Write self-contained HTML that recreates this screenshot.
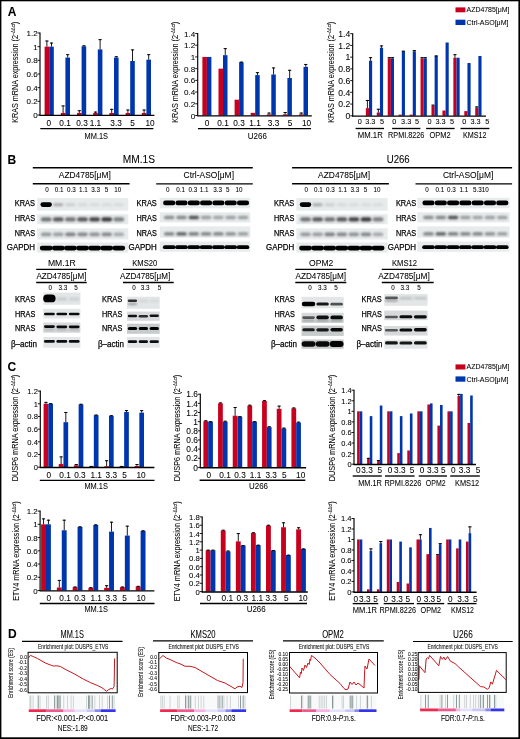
<!DOCTYPE html>
<html><head><meta charset="utf-8"><style>
html,body{margin:0;padding:0;background:#fff;}
body{width:520px;height:739px;overflow:hidden;}
svg{display:block;filter:blur(0.25px);font-family:"Liberation Sans", sans-serif;}
text{stroke:#000;stroke-width:0.06px;}
.bl{stroke-width:0.25px;}
</style></head><body>
<svg width="520" height="739" viewBox="0 0 520 739">
<defs><filter id="b1" x="-50%" y="-50%" width="200%" height="200%"><feGaussianBlur stdDeviation="0.55"/></filter><filter id="b2" x="-50%" y="-50%" width="200%" height="200%"><feGaussianBlur stdDeviation="0.9"/></filter></defs>
<rect x="0" y="0" width="520" height="739" fill="#fff"/>
<text x="12" y="16.43" font-size="12" text-anchor="middle" font-weight="bold">A</text>
<rect x="44.6" y="46.67" width="4.6" height="68.33" fill="#c8001e"/>
<line x1="46.9" y1="40.52" x2="46.9" y2="46.67" stroke="#000" stroke-width="0.9"/>
<line x1="45.3" y1="41.02" x2="48.5" y2="41.02" stroke="#000" stroke-width="1"/>
<rect x="49.2" y="46.67" width="4.6" height="68.33" fill="#0036ad"/>
<line x1="51.5" y1="42.57" x2="51.5" y2="46.67" stroke="#000" stroke-width="0.9"/>
<line x1="49.9" y1="43.07" x2="53.1" y2="43.07" stroke="#000" stroke-width="1"/>
<rect x="60.8" y="112.95" width="4.6" height="2.05" fill="#c8001e"/>
<line x1="63.1" y1="105.43" x2="63.1" y2="112.95" stroke="#000" stroke-width="0.9"/>
<line x1="61.5" y1="105.93" x2="64.7" y2="105.93" stroke="#000" stroke-width="1"/>
<rect x="65.4" y="57.6" width="4.6" height="57.4" fill="#0036ad"/>
<line x1="67.7" y1="54.18" x2="67.7" y2="57.6" stroke="#000" stroke-width="0.9"/>
<line x1="66.1" y1="54.68" x2="69.3" y2="54.68" stroke="#000" stroke-width="1"/>
<rect x="77" y="112.95" width="4.6" height="2.05" fill="#c8001e"/>
<line x1="79.3" y1="110.22" x2="79.3" y2="112.95" stroke="#000" stroke-width="0.9"/>
<line x1="77.7" y1="110.72" x2="80.9" y2="110.72" stroke="#000" stroke-width="1"/>
<rect x="81.6" y="46.33" width="4.6" height="68.67" fill="#0036ad"/>
<line x1="83.9" y1="45.3" x2="83.9" y2="46.33" stroke="#000" stroke-width="0.9"/>
<line x1="82.3" y1="45.8" x2="85.5" y2="45.8" stroke="#000" stroke-width="1"/>
<rect x="93.2" y="112.95" width="4.6" height="2.05" fill="#c8001e"/>
<line x1="95.5" y1="111.58" x2="95.5" y2="112.95" stroke="#000" stroke-width="0.9"/>
<line x1="93.9" y1="112.08" x2="97.1" y2="112.08" stroke="#000" stroke-width="1"/>
<rect x="97.8" y="49.4" width="4.6" height="65.6" fill="#0036ad"/>
<line x1="100.1" y1="39.15" x2="100.1" y2="49.4" stroke="#000" stroke-width="0.9"/>
<line x1="98.5" y1="39.65" x2="101.7" y2="39.65" stroke="#000" stroke-width="1"/>
<rect x="109.4" y="112.95" width="4.6" height="2.05" fill="#c8001e"/>
<line x1="111.7" y1="108.85" x2="111.7" y2="112.95" stroke="#000" stroke-width="0.9"/>
<line x1="110.1" y1="109.35" x2="113.3" y2="109.35" stroke="#000" stroke-width="1"/>
<rect x="114" y="57.6" width="4.6" height="57.4" fill="#0036ad"/>
<line x1="116.3" y1="56.23" x2="116.3" y2="57.6" stroke="#000" stroke-width="0.9"/>
<line x1="114.7" y1="56.73" x2="117.9" y2="56.73" stroke="#000" stroke-width="1"/>
<rect x="125.6" y="112.95" width="4.6" height="2.05" fill="#c8001e"/>
<line x1="127.9" y1="109.53" x2="127.9" y2="112.95" stroke="#000" stroke-width="0.9"/>
<line x1="126.3" y1="110.03" x2="129.5" y2="110.03" stroke="#000" stroke-width="1"/>
<rect x="130.2" y="61.02" width="4.6" height="53.98" fill="#0036ad"/>
<line x1="132.5" y1="49.4" x2="132.5" y2="61.02" stroke="#000" stroke-width="0.9"/>
<line x1="130.9" y1="49.9" x2="134.1" y2="49.9" stroke="#000" stroke-width="1"/>
<rect x="141.8" y="112.95" width="4.6" height="2.05" fill="#c8001e"/>
<line x1="144.1" y1="109.53" x2="144.1" y2="112.95" stroke="#000" stroke-width="0.9"/>
<line x1="142.5" y1="110.03" x2="145.7" y2="110.03" stroke="#000" stroke-width="1"/>
<rect x="146.4" y="59.65" width="4.6" height="55.35" fill="#0036ad"/>
<line x1="148.7" y1="54.18" x2="148.7" y2="59.65" stroke="#000" stroke-width="0.9"/>
<line x1="147.1" y1="54.68" x2="150.3" y2="54.68" stroke="#000" stroke-width="1"/>
<line x1="40" y1="32.5" x2="40" y2="115.6" stroke="#000" stroke-width="1.15"/>
<line x1="39.5" y1="115.35" x2="154.4" y2="115.35" stroke="#000" stroke-width="1.4"/>
<line x1="37.5" y1="115" x2="40" y2="115" stroke="#000" stroke-width="0.9"/>
<text x="37.6" y="118.1" font-size="8" text-anchor="end">0</text>
<line x1="37.5" y1="101.33" x2="40" y2="101.33" stroke="#000" stroke-width="0.9"/>
<text x="37.6" y="104.44" font-size="8" text-anchor="end">0.2</text>
<line x1="37.5" y1="87.67" x2="40" y2="87.67" stroke="#000" stroke-width="0.9"/>
<text x="37.6" y="90.77" font-size="8" text-anchor="end">0.4</text>
<line x1="37.5" y1="74" x2="40" y2="74" stroke="#000" stroke-width="0.9"/>
<text x="37.6" y="77.1" font-size="8" text-anchor="end">0.6</text>
<line x1="37.5" y1="60.33" x2="40" y2="60.33" stroke="#000" stroke-width="0.9"/>
<text x="37.6" y="63.44" font-size="8" text-anchor="end">0.8</text>
<line x1="37.5" y1="46.67" x2="40" y2="46.67" stroke="#000" stroke-width="0.9"/>
<text x="37.6" y="49.77" font-size="8" text-anchor="end">1</text>
<line x1="37.5" y1="33" x2="40" y2="33" stroke="#000" stroke-width="0.9"/>
<text x="37.6" y="36.1" font-size="8" text-anchor="end">1.2</text>
<text x="48.8" y="125.79" font-size="8.7" text-anchor="middle" textLength="4.6" lengthAdjust="spacingAndGlyphs">0</text>
<text x="65.1" y="125.79" font-size="8.7" text-anchor="middle" textLength="11.49" lengthAdjust="spacingAndGlyphs">0.1</text>
<text x="82" y="125.79" font-size="8.7" text-anchor="middle" textLength="11.49" lengthAdjust="spacingAndGlyphs">0.3</text>
<text x="95.4" y="125.79" font-size="8.7" text-anchor="middle" textLength="11.49" lengthAdjust="spacingAndGlyphs">1.1</text>
<text x="116.1" y="125.79" font-size="8.7" text-anchor="middle" textLength="11.49" lengthAdjust="spacingAndGlyphs">3.3</text>
<text x="132.6" y="125.79" font-size="8.7" text-anchor="middle" textLength="4.6" lengthAdjust="spacingAndGlyphs">5</text>
<text x="150" y="125.79" font-size="8.7" text-anchor="middle" textLength="9.19" lengthAdjust="spacingAndGlyphs">10</text>
<line x1="40.3" y1="128.6" x2="153.4" y2="128.6" stroke="#000" stroke-width="1.35"/>
<text x="96.3" y="138.6" font-size="9.6" text-anchor="middle" textLength="23.5" lengthAdjust="spacingAndGlyphs">MM.1S</text>
<text transform="translate(15.2 72.3) rotate(-90)" x="0" y="3.1" font-size="9" text-anchor="middle" textLength="101" lengthAdjust="spacingAndGlyphs">KRAS mRNA expression (2<tspan font-size="5" dy="-3">&#8722;&#916;&#916;ct</tspan><tspan dy="3">)</tspan></text>
<rect x="202.4" y="56.93" width="4.5" height="58.57" fill="#c8001e"/>
<rect x="206.9" y="56.93" width="4.5" height="58.57" fill="#0036ad"/>
<rect x="218.5" y="68.64" width="4.5" height="46.86" fill="#c8001e"/>
<rect x="223" y="55.17" width="4.5" height="60.33" fill="#0036ad"/>
<line x1="225.25" y1="48.14" x2="225.25" y2="55.17" stroke="#000" stroke-width="0.9"/>
<line x1="223.65" y1="48.64" x2="226.85" y2="48.64" stroke="#000" stroke-width="1"/>
<rect x="234.6" y="99.69" width="4.5" height="15.81" fill="#c8001e"/>
<rect x="239.1" y="62.2" width="4.5" height="53.3" fill="#0036ad"/>
<line x1="241.35" y1="61.61" x2="241.35" y2="62.2" stroke="#000" stroke-width="0.9"/>
<line x1="239.75" y1="62.11" x2="242.95" y2="62.11" stroke="#000" stroke-width="1"/>
<rect x="250.7" y="112.86" width="4.5" height="2.64" fill="#c8001e"/>
<rect x="255.2" y="75.09" width="4.5" height="40.41" fill="#0036ad"/>
<line x1="257.45" y1="72.16" x2="257.45" y2="75.09" stroke="#000" stroke-width="0.9"/>
<line x1="255.85" y1="72.66" x2="259.05" y2="72.66" stroke="#000" stroke-width="1"/>
<rect x="266.8" y="114.33" width="4.5" height="1.17" fill="#c8001e"/>
<line x1="269.05" y1="112.57" x2="269.05" y2="114.33" stroke="#000" stroke-width="0.9"/>
<line x1="267.45" y1="113.07" x2="270.65" y2="113.07" stroke="#000" stroke-width="1"/>
<rect x="271.3" y="74.5" width="4.5" height="41" fill="#0036ad"/>
<line x1="273.55" y1="67.47" x2="273.55" y2="74.5" stroke="#000" stroke-width="0.9"/>
<line x1="271.95" y1="67.97" x2="275.15" y2="67.97" stroke="#000" stroke-width="1"/>
<rect x="282.9" y="114.33" width="4.5" height="1.17" fill="#c8001e"/>
<line x1="285.15" y1="111.99" x2="285.15" y2="114.33" stroke="#000" stroke-width="0.9"/>
<line x1="283.55" y1="112.49" x2="286.75" y2="112.49" stroke="#000" stroke-width="1"/>
<rect x="287.4" y="78.01" width="4.5" height="37.49" fill="#0036ad"/>
<line x1="289.65" y1="69.81" x2="289.65" y2="78.01" stroke="#000" stroke-width="0.9"/>
<line x1="288.05" y1="70.31" x2="291.25" y2="70.31" stroke="#000" stroke-width="1"/>
<rect x="299" y="114.33" width="4.5" height="1.17" fill="#c8001e"/>
<line x1="301.25" y1="112.57" x2="301.25" y2="114.33" stroke="#000" stroke-width="0.9"/>
<line x1="299.65" y1="113.07" x2="302.85" y2="113.07" stroke="#000" stroke-width="1"/>
<rect x="303.5" y="66.89" width="4.5" height="48.61" fill="#0036ad"/>
<line x1="305.75" y1="63.96" x2="305.75" y2="66.89" stroke="#000" stroke-width="0.9"/>
<line x1="304.15" y1="64.46" x2="307.35" y2="64.46" stroke="#000" stroke-width="1"/>
<line x1="197.7" y1="33" x2="197.7" y2="116.1" stroke="#000" stroke-width="1.15"/>
<line x1="197.2" y1="115.85" x2="311.8" y2="115.85" stroke="#000" stroke-width="1.4"/>
<line x1="195.2" y1="115.5" x2="197.7" y2="115.5" stroke="#000" stroke-width="0.9"/>
<text x="195.3" y="118.64" font-size="8.1" text-anchor="end">0</text>
<line x1="195.2" y1="103.79" x2="197.7" y2="103.79" stroke="#000" stroke-width="0.9"/>
<text x="195.3" y="106.92" font-size="8.1" text-anchor="end">0.2</text>
<line x1="195.2" y1="92.07" x2="197.7" y2="92.07" stroke="#000" stroke-width="0.9"/>
<text x="195.3" y="95.21" font-size="8.1" text-anchor="end">0.4</text>
<line x1="195.2" y1="80.36" x2="197.7" y2="80.36" stroke="#000" stroke-width="0.9"/>
<text x="195.3" y="83.49" font-size="8.1" text-anchor="end">0.6</text>
<line x1="195.2" y1="68.64" x2="197.7" y2="68.64" stroke="#000" stroke-width="0.9"/>
<text x="195.3" y="71.78" font-size="8.1" text-anchor="end">0.8</text>
<line x1="195.2" y1="56.93" x2="197.7" y2="56.93" stroke="#000" stroke-width="0.9"/>
<text x="195.3" y="60.06" font-size="8.1" text-anchor="end">1</text>
<line x1="195.2" y1="45.21" x2="197.7" y2="45.21" stroke="#000" stroke-width="0.9"/>
<text x="195.3" y="48.35" font-size="8.1" text-anchor="end">1.2</text>
<line x1="195.2" y1="33.5" x2="197.7" y2="33.5" stroke="#000" stroke-width="0.9"/>
<text x="195.3" y="36.64" font-size="8.1" text-anchor="end">1.4</text>
<text x="207" y="125.79" font-size="8.7" text-anchor="middle" textLength="4.6" lengthAdjust="spacingAndGlyphs">0</text>
<text x="223" y="125.79" font-size="8.7" text-anchor="middle" textLength="11.49" lengthAdjust="spacingAndGlyphs">0.1</text>
<text x="239" y="125.79" font-size="8.7" text-anchor="middle" textLength="11.49" lengthAdjust="spacingAndGlyphs">0.3</text>
<text x="255" y="125.79" font-size="8.7" text-anchor="middle" textLength="11.49" lengthAdjust="spacingAndGlyphs">1.1</text>
<text x="273.5" y="125.79" font-size="8.7" text-anchor="middle" textLength="11.49" lengthAdjust="spacingAndGlyphs">3.3</text>
<text x="290" y="125.79" font-size="8.7" text-anchor="middle" textLength="4.6" lengthAdjust="spacingAndGlyphs">5</text>
<text x="306.5" y="125.79" font-size="8.7" text-anchor="middle" textLength="9.19" lengthAdjust="spacingAndGlyphs">10</text>
<line x1="198" y1="128.6" x2="311" y2="128.6" stroke="#000" stroke-width="1.35"/>
<text x="257.3" y="138.6" font-size="9.6" text-anchor="middle" textLength="19" lengthAdjust="spacingAndGlyphs">U266</text>
<text transform="translate(175 72.3) rotate(-90)" x="0" y="3.1" font-size="9" text-anchor="middle" textLength="101" lengthAdjust="spacingAndGlyphs">KRAS mRNA expression (2<tspan font-size="5" dy="-3">&#8722;&#916;&#916;ct</tspan><tspan dy="3">)</tspan></text>
<rect x="365.84" y="108.18" width="3.15" height="7.62" fill="#c8001e"/>
<line x1="367.41" y1="99.97" x2="367.41" y2="108.18" stroke="#000" stroke-width="0.9"/>
<line x1="365.81" y1="100.47" x2="369.01" y2="100.47" stroke="#000" stroke-width="1"/>
<rect x="368.99" y="60.68" width="3.15" height="55.12" fill="#0036ad"/>
<line x1="370.56" y1="57.16" x2="370.56" y2="60.68" stroke="#000" stroke-width="0.9"/>
<line x1="368.96" y1="57.66" x2="372.16" y2="57.66" stroke="#000" stroke-width="1"/>
<rect x="376.78" y="112.52" width="3.15" height="3.28" fill="#c8001e"/>
<line x1="378.35" y1="108.76" x2="378.35" y2="112.52" stroke="#000" stroke-width="0.9"/>
<line x1="376.75" y1="109.26" x2="379.95" y2="109.26" stroke="#000" stroke-width="1"/>
<rect x="379.93" y="47.77" width="3.15" height="68.03" fill="#0036ad"/>
<line x1="381.5" y1="45.43" x2="381.5" y2="47.77" stroke="#000" stroke-width="0.9"/>
<line x1="379.9" y1="45.93" x2="383.1" y2="45.93" stroke="#000" stroke-width="1"/>
<rect x="387.72" y="58.33" width="3.15" height="57.47" fill="#c8001e"/>
<line x1="389.29" y1="57.16" x2="389.29" y2="58.33" stroke="#000" stroke-width="0.9"/>
<line x1="387.69" y1="57.66" x2="390.89" y2="57.66" stroke="#000" stroke-width="1"/>
<rect x="390.87" y="58.33" width="3.15" height="57.47" fill="#0036ad"/>
<line x1="392.44" y1="57.16" x2="392.44" y2="58.33" stroke="#000" stroke-width="0.9"/>
<line x1="390.84" y1="57.66" x2="394.04" y2="57.66" stroke="#000" stroke-width="1"/>
<rect x="398.66" y="114.63" width="3.15" height="1.17" fill="#c8001e"/>
<rect x="401.81" y="51.29" width="3.15" height="64.51" fill="#0036ad"/>
<line x1="403.38" y1="50.71" x2="403.38" y2="51.29" stroke="#000" stroke-width="0.9"/>
<line x1="401.78" y1="51.21" x2="404.98" y2="51.21" stroke="#000" stroke-width="1"/>
<rect x="409.6" y="114.63" width="3.15" height="1.17" fill="#c8001e"/>
<rect x="412.75" y="51.29" width="3.15" height="64.51" fill="#0036ad"/>
<line x1="414.32" y1="50.12" x2="414.32" y2="51.29" stroke="#000" stroke-width="0.9"/>
<line x1="412.72" y1="50.62" x2="415.92" y2="50.62" stroke="#000" stroke-width="1"/>
<rect x="420.54" y="58.33" width="3.15" height="57.47" fill="#c8001e"/>
<line x1="422.11" y1="57.16" x2="422.11" y2="58.33" stroke="#000" stroke-width="0.9"/>
<line x1="420.51" y1="57.66" x2="423.71" y2="57.66" stroke="#000" stroke-width="1"/>
<rect x="423.69" y="58.33" width="3.15" height="57.47" fill="#0036ad"/>
<line x1="425.26" y1="57.16" x2="425.26" y2="58.33" stroke="#000" stroke-width="0.9"/>
<line x1="423.66" y1="57.66" x2="426.86" y2="57.66" stroke="#000" stroke-width="1"/>
<rect x="431.48" y="105.83" width="3.15" height="9.97" fill="#c8001e"/>
<line x1="433.05" y1="104.66" x2="433.05" y2="105.83" stroke="#000" stroke-width="0.9"/>
<line x1="431.45" y1="105.16" x2="434.65" y2="105.16" stroke="#000" stroke-width="1"/>
<rect x="434.63" y="55.98" width="3.15" height="59.82" fill="#0036ad"/>
<line x1="436.2" y1="55.4" x2="436.2" y2="55.98" stroke="#000" stroke-width="0.9"/>
<line x1="434.6" y1="55.9" x2="437.8" y2="55.9" stroke="#000" stroke-width="1"/>
<rect x="442.42" y="110.52" width="3.15" height="5.28" fill="#c8001e"/>
<rect x="445.57" y="42.5" width="3.15" height="73.3" fill="#0036ad"/>
<rect x="453.36" y="57.74" width="3.15" height="58.06" fill="#c8001e"/>
<line x1="454.93" y1="54.22" x2="454.93" y2="57.74" stroke="#000" stroke-width="0.9"/>
<line x1="453.33" y1="54.72" x2="456.53" y2="54.72" stroke="#000" stroke-width="1"/>
<rect x="456.51" y="57.74" width="3.15" height="58.06" fill="#0036ad"/>
<rect x="464.3" y="111.11" width="3.15" height="4.69" fill="#c8001e"/>
<rect x="467.45" y="63.02" width="3.15" height="52.78" fill="#0036ad"/>
<rect x="475.24" y="107.59" width="3.15" height="8.21" fill="#c8001e"/>
<line x1="476.81" y1="106.42" x2="476.81" y2="107.59" stroke="#000" stroke-width="0.9"/>
<line x1="475.21" y1="106.92" x2="478.41" y2="106.92" stroke="#000" stroke-width="1"/>
<rect x="478.39" y="55.98" width="3.15" height="59.82" fill="#0036ad"/>
<line x1="352.7" y1="33.2" x2="352.7" y2="116.4" stroke="#000" stroke-width="1.15"/>
<line x1="352.2" y1="116.15" x2="486" y2="116.15" stroke="#000" stroke-width="1.4"/>
<line x1="350.2" y1="115.8" x2="352.7" y2="115.8" stroke="#000" stroke-width="0.9"/>
<text x="350.3" y="119.11" font-size="8.6" text-anchor="end">0</text>
<line x1="350.2" y1="104.07" x2="352.7" y2="104.07" stroke="#000" stroke-width="0.9"/>
<text x="350.3" y="107.38" font-size="8.6" text-anchor="end">0.2</text>
<line x1="350.2" y1="92.34" x2="352.7" y2="92.34" stroke="#000" stroke-width="0.9"/>
<text x="350.3" y="95.65" font-size="8.6" text-anchor="end">0.4</text>
<line x1="350.2" y1="80.61" x2="352.7" y2="80.61" stroke="#000" stroke-width="0.9"/>
<text x="350.3" y="83.92" font-size="8.6" text-anchor="end">0.6</text>
<line x1="350.2" y1="68.89" x2="352.7" y2="68.89" stroke="#000" stroke-width="0.9"/>
<text x="350.3" y="72.19" font-size="8.6" text-anchor="end">0.8</text>
<line x1="350.2" y1="57.16" x2="352.7" y2="57.16" stroke="#000" stroke-width="0.9"/>
<text x="350.3" y="60.47" font-size="8.6" text-anchor="end">1</text>
<line x1="350.2" y1="45.43" x2="352.7" y2="45.43" stroke="#000" stroke-width="0.9"/>
<text x="350.3" y="48.74" font-size="8.6" text-anchor="end">1.2</text>
<line x1="350.2" y1="33.7" x2="352.7" y2="33.7" stroke="#000" stroke-width="0.9"/>
<text x="350.3" y="37.01" font-size="8.6" text-anchor="end">1.4</text>
<text x="359.8" y="123.61" font-size="7.3" text-anchor="middle">0</text>
<text x="370.3" y="123.61" font-size="7.3" text-anchor="middle">3.3</text>
<text x="382" y="123.61" font-size="7.3" text-anchor="middle">5</text>
<text x="394.4" y="123.61" font-size="7.3" text-anchor="middle">0</text>
<text x="406.2" y="123.61" font-size="7.3" text-anchor="middle">3.3</text>
<text x="417.1" y="123.61" font-size="7.3" text-anchor="middle">5</text>
<text x="429.6" y="123.61" font-size="7.3" text-anchor="middle">0</text>
<text x="440.6" y="123.61" font-size="7.3" text-anchor="middle">3.3</text>
<text x="452" y="123.61" font-size="7.3" text-anchor="middle">5</text>
<text x="464.2" y="123.61" font-size="7.3" text-anchor="middle">0</text>
<text x="475.5" y="123.61" font-size="7.3" text-anchor="middle">3.3</text>
<text x="487.4" y="123.61" font-size="7.3" text-anchor="middle">5</text>
<line x1="355.6" y1="128.5" x2="384" y2="128.5" stroke="#000" stroke-width="1.35"/>
<text x="370.3" y="138.06" font-size="8.6" text-anchor="middle" textLength="25" lengthAdjust="spacingAndGlyphs">MM.1R</text>
<line x1="392.1" y1="128.5" x2="420.4" y2="128.5" stroke="#000" stroke-width="1.35"/>
<text x="406.2" y="138.06" font-size="8.6" text-anchor="middle" textLength="36.3" lengthAdjust="spacingAndGlyphs">RPMI.8226</text>
<line x1="426.1" y1="128.5" x2="454.6" y2="128.5" stroke="#000" stroke-width="1.35"/>
<text x="440" y="138.06" font-size="8.6" text-anchor="middle" textLength="21" lengthAdjust="spacingAndGlyphs">OPM2</text>
<line x1="460.5" y1="128.5" x2="489.4" y2="128.5" stroke="#000" stroke-width="1.35"/>
<text x="474.8" y="138.06" font-size="8.6" text-anchor="middle" textLength="23.6" lengthAdjust="spacingAndGlyphs">KMS12</text>
<text transform="translate(331 72.3) rotate(-90)" x="0" y="3.1" font-size="9" text-anchor="middle" textLength="101" lengthAdjust="spacingAndGlyphs">KRAS mRNA expression (2<tspan font-size="5" dy="-3">&#8722;&#916;&#916;ct</tspan><tspan dy="3">)</tspan></text>
<rect x="455.5" y="7.4" width="9.9" height="4.9" fill="#c8001e"/>
<text x="466.5" y="12.31" font-size="7" textLength="43" lengthAdjust="spacingAndGlyphs">AZD4785[μM]</text>
<rect x="455.5" y="19.7" width="9.9" height="5.3" fill="#0036ad"/>
<text x="466.5" y="24.71" font-size="7" textLength="42" lengthAdjust="spacingAndGlyphs">Ctrl-ASO[μM]</text>
<text x="11.8" y="164.03" font-size="12" text-anchor="middle" font-weight="bold">B</text>
<text x="138.8" y="162.84" font-size="10" text-anchor="middle" textLength="32.3" lengthAdjust="spacingAndGlyphs">MM.1S</text>
<line x1="32.8" y1="167.8" x2="252.8" y2="167.8" stroke="#000" stroke-width="1.5"/>
<text x="84.8" y="178.09" font-size="8.4" text-anchor="middle" textLength="52" lengthAdjust="spacingAndGlyphs">AZD4785[μM]</text>
<line x1="32.8" y1="183.7" x2="129.6" y2="183.7" stroke="#000" stroke-width="1.4"/>
<text x="208.8" y="178.39" font-size="8.4" text-anchor="middle" textLength="50.4" lengthAdjust="spacingAndGlyphs">Ctrl-ASO[μM]</text>
<line x1="156.2" y1="183.9" x2="252.8" y2="183.9" stroke="#000" stroke-width="1.4"/>
<rect x="37.1" y="198.1" width="91.2" height="12.5" fill="#e7ebeb"/>
<rect x="37.1" y="214.2" width="91.2" height="10.1" fill="#e7ebeb"/>
<rect x="37.1" y="228.3" width="91.2" height="11.2" fill="#e7ebeb"/>
<rect x="37.1" y="242.5" width="91.2" height="10.1" fill="#e7ebeb"/>
<rect x="40.45" y="202.3" width="11.5" height="4.6" rx="2.3" fill="#000" fill-opacity="1" filter="url(#b1)"/>
<rect x="40.8" y="217.3" width="10.8" height="4.2" rx="2.1" fill="#000" fill-opacity="0.5" filter="url(#b2)"/>
<rect x="40.95" y="232.6" width="10.5" height="3.6" rx="1.8" fill="#000" fill-opacity="0.35" filter="url(#b2)"/>
<rect x="39.8" y="245.8" width="12.8" height="4.6" rx="2.3" fill="#000" fill-opacity="1" filter="url(#b1)"/>
<rect x="53.3" y="203.2" width="10" height="3" rx="1.5" fill="#000" fill-opacity="0.28" filter="url(#b2)"/>
<rect x="52.9" y="217.3" width="10.8" height="4.2" rx="2.1" fill="#000" fill-opacity="0.6" filter="url(#b2)"/>
<rect x="53.05" y="232.6" width="10.5" height="3.6" rx="1.8" fill="#000" fill-opacity="0.33" filter="url(#b2)"/>
<rect x="51.9" y="245.8" width="12.8" height="4.6" rx="2.3" fill="#000" fill-opacity="1" filter="url(#b1)"/>
<rect x="65.4" y="203.2" width="10" height="3" rx="1.5" fill="#000" fill-opacity="0.12" filter="url(#b2)"/>
<rect x="65" y="217.3" width="10.8" height="4.2" rx="2.1" fill="#000" fill-opacity="0.5" filter="url(#b2)"/>
<rect x="65.15" y="232.6" width="10.5" height="3.6" rx="1.8" fill="#000" fill-opacity="0.45" filter="url(#b2)"/>
<rect x="64" y="245.8" width="12.8" height="4.6" rx="2.3" fill="#000" fill-opacity="1" filter="url(#b1)"/>
<rect x="77.5" y="203.2" width="10" height="3" rx="1.5" fill="#000" fill-opacity="0.08" filter="url(#b2)"/>
<rect x="77.1" y="217.3" width="10.8" height="4.2" rx="2.1" fill="#000" fill-opacity="0.62" filter="url(#b2)"/>
<rect x="77.25" y="232.6" width="10.5" height="3.6" rx="1.8" fill="#000" fill-opacity="0.42" filter="url(#b2)"/>
<rect x="76.1" y="245.8" width="12.8" height="4.6" rx="2.3" fill="#000" fill-opacity="1" filter="url(#b1)"/>
<rect x="89.6" y="203.2" width="10" height="3" rx="1.5" fill="#000" fill-opacity="0.07" filter="url(#b2)"/>
<rect x="89.2" y="217.3" width="10.8" height="4.2" rx="2.1" fill="#000" fill-opacity="0.7" filter="url(#b2)"/>
<rect x="89.35" y="232.6" width="10.5" height="3.6" rx="1.8" fill="#000" fill-opacity="0.38" filter="url(#b2)"/>
<rect x="88.2" y="245.8" width="12.8" height="4.6" rx="2.3" fill="#000" fill-opacity="1" filter="url(#b1)"/>
<rect x="101.7" y="203.2" width="10" height="3" rx="1.5" fill="#000" fill-opacity="0.07" filter="url(#b2)"/>
<rect x="101.3" y="217.3" width="10.8" height="4.2" rx="2.1" fill="#000" fill-opacity="0.75" filter="url(#b2)"/>
<rect x="101.45" y="232.6" width="10.5" height="3.6" rx="1.8" fill="#000" fill-opacity="0.42" filter="url(#b2)"/>
<rect x="100.3" y="245.8" width="12.8" height="4.6" rx="2.3" fill="#000" fill-opacity="1" filter="url(#b1)"/>
<rect x="113.8" y="203.2" width="10" height="3" rx="1.5" fill="#000" fill-opacity="0.07" filter="url(#b2)"/>
<rect x="113.4" y="217.3" width="10.8" height="4.2" rx="2.1" fill="#000" fill-opacity="0.45" filter="url(#b2)"/>
<rect x="113.55" y="232.6" width="10.5" height="3.6" rx="1.8" fill="#000" fill-opacity="0.28" filter="url(#b2)"/>
<rect x="112.4" y="245.8" width="12.8" height="4.6" rx="2.3" fill="#000" fill-opacity="1" filter="url(#b1)"/>
<text x="35" y="206.4" font-size="9" text-anchor="end" textLength="20.2" lengthAdjust="spacingAndGlyphs" class="bl">KRAS</text>
<text x="35" y="221.2" font-size="9" text-anchor="end" textLength="20.2" lengthAdjust="spacingAndGlyphs" class="bl">HRAS</text>
<text x="35" y="235.7" font-size="9" text-anchor="end" textLength="20.2" lengthAdjust="spacingAndGlyphs" class="bl">NRAS</text>
<text x="35" y="250.4" font-size="9" text-anchor="end" textLength="28.3" lengthAdjust="spacingAndGlyphs" class="bl">GAPDH</text>
<rect x="159.7" y="197.8" width="90.6" height="10.5" fill="#e7ebeb"/>
<rect x="159.7" y="212.3" width="90.6" height="10.1" fill="#e7ebeb"/>
<rect x="159.7" y="226.4" width="90.6" height="11.2" fill="#e7ebeb"/>
<rect x="159.7" y="241.6" width="90.6" height="10.1" fill="#e7ebeb"/>
<rect x="163.1" y="200.6" width="12.2" height="4.6" rx="2.3" fill="#000" fill-opacity="1" filter="url(#b1)"/>
<rect x="163.95" y="215.7" width="10.5" height="3.6" rx="1.8" fill="#000" fill-opacity="0.4" filter="url(#b2)"/>
<rect x="163.95" y="232.2" width="10.5" height="3.4" rx="1.7" fill="#000" fill-opacity="0.45" filter="url(#b2)"/>
<rect x="162.9" y="245.3" width="12.6" height="3.8" rx="1.9" fill="#000" fill-opacity="1" filter="url(#b1)"/>
<rect x="175.4" y="200.6" width="12.2" height="4.6" rx="2.3" fill="#000" fill-opacity="1" filter="url(#b1)"/>
<rect x="176.25" y="215.7" width="10.5" height="3.6" rx="1.8" fill="#000" fill-opacity="0.42" filter="url(#b2)"/>
<rect x="176.25" y="232.2" width="10.5" height="3.4" rx="1.7" fill="#000" fill-opacity="0.6" filter="url(#b2)"/>
<rect x="175.2" y="245.3" width="12.6" height="3.8" rx="1.9" fill="#000" fill-opacity="1" filter="url(#b1)"/>
<rect x="187.7" y="200.6" width="12.2" height="4.6" rx="2.3" fill="#000" fill-opacity="1" filter="url(#b1)"/>
<rect x="188.55" y="215.7" width="10.5" height="3.6" rx="1.8" fill="#000" fill-opacity="0.65" filter="url(#b2)"/>
<rect x="188.55" y="232.2" width="10.5" height="3.4" rx="1.7" fill="#000" fill-opacity="0.48" filter="url(#b2)"/>
<rect x="187.5" y="245.3" width="12.6" height="3.8" rx="1.9" fill="#000" fill-opacity="1" filter="url(#b1)"/>
<rect x="200" y="200.6" width="12.2" height="4.6" rx="2.3" fill="#000" fill-opacity="1" filter="url(#b1)"/>
<rect x="200.85" y="215.7" width="10.5" height="3.6" rx="1.8" fill="#000" fill-opacity="0.33" filter="url(#b2)"/>
<rect x="200.85" y="232.2" width="10.5" height="3.4" rx="1.7" fill="#000" fill-opacity="0.45" filter="url(#b2)"/>
<rect x="199.8" y="245.3" width="12.6" height="3.8" rx="1.9" fill="#000" fill-opacity="1" filter="url(#b1)"/>
<rect x="212.3" y="200.6" width="12.2" height="4.6" rx="2.3" fill="#000" fill-opacity="1" filter="url(#b1)"/>
<rect x="213.15" y="215.7" width="10.5" height="3.6" rx="1.8" fill="#000" fill-opacity="0.3" filter="url(#b2)"/>
<rect x="213.15" y="232.2" width="10.5" height="3.4" rx="1.7" fill="#000" fill-opacity="0.45" filter="url(#b2)"/>
<rect x="212.1" y="245.3" width="12.6" height="3.8" rx="1.9" fill="#000" fill-opacity="1" filter="url(#b1)"/>
<rect x="224.6" y="200.6" width="12.2" height="4.6" rx="2.3" fill="#000" fill-opacity="1" filter="url(#b1)"/>
<rect x="225.45" y="215.7" width="10.5" height="3.6" rx="1.8" fill="#000" fill-opacity="0.32" filter="url(#b2)"/>
<rect x="225.45" y="232.2" width="10.5" height="3.4" rx="1.7" fill="#000" fill-opacity="0.4" filter="url(#b2)"/>
<rect x="224.4" y="245.3" width="12.6" height="3.8" rx="1.9" fill="#000" fill-opacity="1" filter="url(#b1)"/>
<rect x="236.9" y="200.6" width="12.2" height="4.6" rx="2.3" fill="#000" fill-opacity="1" filter="url(#b1)"/>
<rect x="237.75" y="215.7" width="10.5" height="3.6" rx="1.8" fill="#000" fill-opacity="0.32" filter="url(#b2)"/>
<rect x="237.75" y="232.2" width="10.5" height="3.4" rx="1.7" fill="#000" fill-opacity="0.35" filter="url(#b2)"/>
<rect x="236.7" y="245.3" width="12.6" height="3.8" rx="1.9" fill="#000" fill-opacity="1" filter="url(#b1)"/>
<text x="156.8" y="206.1" font-size="9" text-anchor="end" textLength="20.2" lengthAdjust="spacingAndGlyphs" class="bl">KRAS</text>
<text x="156.8" y="220.9" font-size="9" text-anchor="end" textLength="20.2" lengthAdjust="spacingAndGlyphs" class="bl">HRAS</text>
<text x="156.8" y="235.7" font-size="9" text-anchor="end" textLength="20.2" lengthAdjust="spacingAndGlyphs" class="bl">NRAS</text>
<text x="156.8" y="250.1" font-size="9" text-anchor="end" textLength="28.3" lengthAdjust="spacingAndGlyphs" class="bl">GAPDH</text>
<text x="398.2" y="162.84" font-size="10" text-anchor="middle" textLength="23" lengthAdjust="spacingAndGlyphs">U266</text>
<line x1="292.1" y1="167.8" x2="512.1" y2="167.8" stroke="#000" stroke-width="1.5"/>
<text x="344.1" y="178.09" font-size="8.4" text-anchor="middle" textLength="52" lengthAdjust="spacingAndGlyphs">AZD4785[μM]</text>
<line x1="292.1" y1="183.7" x2="388.9" y2="183.7" stroke="#000" stroke-width="1.4"/>
<text x="468.1" y="178.39" font-size="8.4" text-anchor="middle" textLength="50.4" lengthAdjust="spacingAndGlyphs">Ctrl-ASO[μM]</text>
<line x1="415.5" y1="183.9" x2="512.1" y2="183.9" stroke="#000" stroke-width="1.4"/>
<rect x="296.4" y="198.1" width="91.2" height="12.5" fill="#e7ebeb"/>
<rect x="296.4" y="214.2" width="91.2" height="10.1" fill="#e7ebeb"/>
<rect x="296.4" y="228.3" width="91.2" height="11.2" fill="#e7ebeb"/>
<rect x="296.4" y="242.5" width="91.2" height="10.1" fill="#e7ebeb"/>
<rect x="299.75" y="202.3" width="11.5" height="4.6" rx="2.3" fill="#000" fill-opacity="1" filter="url(#b1)"/>
<rect x="300.1" y="217.3" width="10.8" height="4.2" rx="2.1" fill="#000" fill-opacity="0.5" filter="url(#b2)"/>
<rect x="300.25" y="232.6" width="10.5" height="3.6" rx="1.8" fill="#000" fill-opacity="0.35" filter="url(#b2)"/>
<rect x="299.1" y="245.8" width="12.8" height="4.6" rx="2.3" fill="#000" fill-opacity="1" filter="url(#b1)"/>
<rect x="312.6" y="203.2" width="10" height="3" rx="1.5" fill="#000" fill-opacity="0.28" filter="url(#b2)"/>
<rect x="312.2" y="217.3" width="10.8" height="4.2" rx="2.1" fill="#000" fill-opacity="0.6" filter="url(#b2)"/>
<rect x="312.35" y="232.6" width="10.5" height="3.6" rx="1.8" fill="#000" fill-opacity="0.33" filter="url(#b2)"/>
<rect x="311.2" y="245.8" width="12.8" height="4.6" rx="2.3" fill="#000" fill-opacity="1" filter="url(#b1)"/>
<rect x="324.7" y="203.2" width="10" height="3" rx="1.5" fill="#000" fill-opacity="0.12" filter="url(#b2)"/>
<rect x="324.3" y="217.3" width="10.8" height="4.2" rx="2.1" fill="#000" fill-opacity="0.5" filter="url(#b2)"/>
<rect x="324.45" y="232.6" width="10.5" height="3.6" rx="1.8" fill="#000" fill-opacity="0.45" filter="url(#b2)"/>
<rect x="323.3" y="245.8" width="12.8" height="4.6" rx="2.3" fill="#000" fill-opacity="1" filter="url(#b1)"/>
<rect x="336.8" y="203.2" width="10" height="3" rx="1.5" fill="#000" fill-opacity="0.08" filter="url(#b2)"/>
<rect x="336.4" y="217.3" width="10.8" height="4.2" rx="2.1" fill="#000" fill-opacity="0.62" filter="url(#b2)"/>
<rect x="336.55" y="232.6" width="10.5" height="3.6" rx="1.8" fill="#000" fill-opacity="0.42" filter="url(#b2)"/>
<rect x="335.4" y="245.8" width="12.8" height="4.6" rx="2.3" fill="#000" fill-opacity="1" filter="url(#b1)"/>
<rect x="348.9" y="203.2" width="10" height="3" rx="1.5" fill="#000" fill-opacity="0.07" filter="url(#b2)"/>
<rect x="348.5" y="217.3" width="10.8" height="4.2" rx="2.1" fill="#000" fill-opacity="0.7" filter="url(#b2)"/>
<rect x="348.65" y="232.6" width="10.5" height="3.6" rx="1.8" fill="#000" fill-opacity="0.38" filter="url(#b2)"/>
<rect x="347.5" y="245.8" width="12.8" height="4.6" rx="2.3" fill="#000" fill-opacity="1" filter="url(#b1)"/>
<rect x="361" y="203.2" width="10" height="3" rx="1.5" fill="#000" fill-opacity="0.07" filter="url(#b2)"/>
<rect x="360.6" y="217.3" width="10.8" height="4.2" rx="2.1" fill="#000" fill-opacity="0.75" filter="url(#b2)"/>
<rect x="360.75" y="232.6" width="10.5" height="3.6" rx="1.8" fill="#000" fill-opacity="0.42" filter="url(#b2)"/>
<rect x="359.6" y="245.8" width="12.8" height="4.6" rx="2.3" fill="#000" fill-opacity="1" filter="url(#b1)"/>
<rect x="373.1" y="203.2" width="10" height="3" rx="1.5" fill="#000" fill-opacity="0.07" filter="url(#b2)"/>
<rect x="372.7" y="217.3" width="10.8" height="4.2" rx="2.1" fill="#000" fill-opacity="0.45" filter="url(#b2)"/>
<rect x="372.85" y="232.6" width="10.5" height="3.6" rx="1.8" fill="#000" fill-opacity="0.28" filter="url(#b2)"/>
<rect x="371.7" y="245.8" width="12.8" height="4.6" rx="2.3" fill="#000" fill-opacity="1" filter="url(#b1)"/>
<text x="294.3" y="206.4" font-size="9" text-anchor="end" textLength="20.2" lengthAdjust="spacingAndGlyphs" class="bl">KRAS</text>
<text x="294.3" y="221.2" font-size="9" text-anchor="end" textLength="20.2" lengthAdjust="spacingAndGlyphs" class="bl">HRAS</text>
<text x="294.3" y="235.7" font-size="9" text-anchor="end" textLength="20.2" lengthAdjust="spacingAndGlyphs" class="bl">NRAS</text>
<text x="294.3" y="250.4" font-size="9" text-anchor="end" textLength="28.3" lengthAdjust="spacingAndGlyphs" class="bl">GAPDH</text>
<rect x="417.3" y="197.8" width="92.3" height="10.5" fill="#e7ebeb"/>
<rect x="417.3" y="212.3" width="92.3" height="10.1" fill="#e7ebeb"/>
<rect x="417.3" y="226.4" width="92.3" height="11.2" fill="#e7ebeb"/>
<rect x="417.3" y="241.6" width="92.3" height="10.1" fill="#e7ebeb"/>
<rect x="422.4" y="200.6" width="12.2" height="4.6" rx="2.3" fill="#000" fill-opacity="1" filter="url(#b1)"/>
<rect x="423.25" y="215.7" width="10.5" height="3.6" rx="1.8" fill="#000" fill-opacity="0.4" filter="url(#b2)"/>
<rect x="423.25" y="232.2" width="10.5" height="3.4" rx="1.7" fill="#000" fill-opacity="0.45" filter="url(#b2)"/>
<rect x="422.2" y="245.3" width="12.6" height="3.8" rx="1.9" fill="#000" fill-opacity="1" filter="url(#b1)"/>
<rect x="434.7" y="200.6" width="12.2" height="4.6" rx="2.3" fill="#000" fill-opacity="1" filter="url(#b1)"/>
<rect x="435.55" y="215.7" width="10.5" height="3.6" rx="1.8" fill="#000" fill-opacity="0.42" filter="url(#b2)"/>
<rect x="435.55" y="232.2" width="10.5" height="3.4" rx="1.7" fill="#000" fill-opacity="0.6" filter="url(#b2)"/>
<rect x="434.5" y="245.3" width="12.6" height="3.8" rx="1.9" fill="#000" fill-opacity="1" filter="url(#b1)"/>
<rect x="447" y="200.6" width="12.2" height="4.6" rx="2.3" fill="#000" fill-opacity="1" filter="url(#b1)"/>
<rect x="447.85" y="215.7" width="10.5" height="3.6" rx="1.8" fill="#000" fill-opacity="0.65" filter="url(#b2)"/>
<rect x="447.85" y="232.2" width="10.5" height="3.4" rx="1.7" fill="#000" fill-opacity="0.48" filter="url(#b2)"/>
<rect x="446.8" y="245.3" width="12.6" height="3.8" rx="1.9" fill="#000" fill-opacity="1" filter="url(#b1)"/>
<rect x="459.3" y="200.6" width="12.2" height="4.6" rx="2.3" fill="#000" fill-opacity="1" filter="url(#b1)"/>
<rect x="460.15" y="215.7" width="10.5" height="3.6" rx="1.8" fill="#000" fill-opacity="0.33" filter="url(#b2)"/>
<rect x="460.15" y="232.2" width="10.5" height="3.4" rx="1.7" fill="#000" fill-opacity="0.45" filter="url(#b2)"/>
<rect x="459.1" y="245.3" width="12.6" height="3.8" rx="1.9" fill="#000" fill-opacity="1" filter="url(#b1)"/>
<rect x="471.6" y="200.6" width="12.2" height="4.6" rx="2.3" fill="#000" fill-opacity="1" filter="url(#b1)"/>
<rect x="472.45" y="215.7" width="10.5" height="3.6" rx="1.8" fill="#000" fill-opacity="0.3" filter="url(#b2)"/>
<rect x="472.45" y="232.2" width="10.5" height="3.4" rx="1.7" fill="#000" fill-opacity="0.45" filter="url(#b2)"/>
<rect x="471.4" y="245.3" width="12.6" height="3.8" rx="1.9" fill="#000" fill-opacity="1" filter="url(#b1)"/>
<rect x="483.9" y="200.6" width="12.2" height="4.6" rx="2.3" fill="#000" fill-opacity="1" filter="url(#b1)"/>
<rect x="484.75" y="215.7" width="10.5" height="3.6" rx="1.8" fill="#000" fill-opacity="0.32" filter="url(#b2)"/>
<rect x="484.75" y="232.2" width="10.5" height="3.4" rx="1.7" fill="#000" fill-opacity="0.4" filter="url(#b2)"/>
<rect x="483.7" y="245.3" width="12.6" height="3.8" rx="1.9" fill="#000" fill-opacity="1" filter="url(#b1)"/>
<rect x="496.2" y="200.6" width="12.2" height="4.6" rx="2.3" fill="#000" fill-opacity="1" filter="url(#b1)"/>
<rect x="497.05" y="215.7" width="10.5" height="3.6" rx="1.8" fill="#000" fill-opacity="0.32" filter="url(#b2)"/>
<rect x="497.05" y="232.2" width="10.5" height="3.4" rx="1.7" fill="#000" fill-opacity="0.35" filter="url(#b2)"/>
<rect x="496" y="245.3" width="12.6" height="3.8" rx="1.9" fill="#000" fill-opacity="1" filter="url(#b1)"/>
<text x="416.1" y="206.1" font-size="9" text-anchor="end" textLength="20.2" lengthAdjust="spacingAndGlyphs" class="bl">KRAS</text>
<text x="416.1" y="220.9" font-size="9" text-anchor="end" textLength="20.2" lengthAdjust="spacingAndGlyphs" class="bl">HRAS</text>
<text x="416.1" y="235.7" font-size="9" text-anchor="end" textLength="20.2" lengthAdjust="spacingAndGlyphs" class="bl">NRAS</text>
<text x="416.1" y="250.1" font-size="9" text-anchor="end" textLength="28.3" lengthAdjust="spacingAndGlyphs" class="bl">GAPDH</text>
<text x="47" y="192.47" font-size="6.3" text-anchor="middle">0</text>
<text x="306.2" y="192.47" font-size="6.3" text-anchor="middle">0</text>
<text x="59.2" y="192.47" font-size="6.3" text-anchor="middle">0.1</text>
<text x="318.4" y="192.47" font-size="6.3" text-anchor="middle">0.1</text>
<text x="71.3" y="192.47" font-size="6.3" text-anchor="middle">0.3</text>
<text x="330.5" y="192.47" font-size="6.3" text-anchor="middle">0.3</text>
<text x="83.5" y="192.47" font-size="6.3" text-anchor="middle">1.1</text>
<text x="342.7" y="192.47" font-size="6.3" text-anchor="middle">1.1</text>
<text x="95.6" y="192.47" font-size="6.3" text-anchor="middle">3.3</text>
<text x="354.8" y="192.47" font-size="6.3" text-anchor="middle">3.3</text>
<text x="106.4" y="192.47" font-size="6.3" text-anchor="middle">5</text>
<text x="365.6" y="192.47" font-size="6.3" text-anchor="middle">5</text>
<text x="117.7" y="192.47" font-size="6.3" text-anchor="middle">10</text>
<text x="376.9" y="192.47" font-size="6.3" text-anchor="middle">10</text>
<text x="167.8" y="192.47" font-size="6.3" text-anchor="middle">0</text>
<text x="180.7" y="192.47" font-size="6.3" text-anchor="middle">0.1</text>
<text x="192.8" y="192.47" font-size="6.3" text-anchor="middle">0.3</text>
<text x="204.1" y="192.47" font-size="6.3" text-anchor="middle">1.1</text>
<text x="217.6" y="192.47" font-size="6.3" text-anchor="middle">3.3</text>
<text x="227.7" y="192.47" font-size="6.3" text-anchor="middle">5</text>
<text x="238.9" y="192.47" font-size="6.3" text-anchor="middle">10</text>
<text x="427.1" y="192.47" font-size="6.3" text-anchor="middle">0</text>
<text x="439.8" y="192.47" font-size="6.3" text-anchor="middle">0.1</text>
<text x="451.4" y="192.47" font-size="6.3" text-anchor="middle">0.3</text>
<text x="464" y="192.47" font-size="6.3" text-anchor="middle">1.1</text>
<text x="481" y="192.47" font-size="6.3" text-anchor="middle">5.310</text>
<text x="61.8" y="266.26" font-size="8.6" text-anchor="middle" textLength="27.7" lengthAdjust="spacingAndGlyphs">MM.1R</text>
<line x1="36.2" y1="269.4" x2="86.7" y2="269.4" stroke="#000" stroke-width="1.3"/>
<text x="61.4" y="279.06" font-size="8.6" text-anchor="middle" textLength="50" lengthAdjust="spacingAndGlyphs">AZD4785[μM]</text>
<line x1="36.2" y1="282.5" x2="86.7" y2="282.5" stroke="#000" stroke-width="1.3"/>
<text x="50.3" y="290.37" font-size="6.3" text-anchor="middle">0</text>
<text x="63" y="290.37" font-size="6.3" text-anchor="middle">3.3</text>
<text x="76" y="290.37" font-size="6.3" text-anchor="middle">5</text>
<rect x="43.2" y="292.6" width="37.2" height="12.2" fill="#e2e6e6"/>
<rect x="43.2" y="308.8" width="37.2" height="9.6" fill="#e2e6e6"/>
<rect x="43.2" y="322.5" width="37.2" height="10.3" fill="#d6dada"/>
<rect x="43.2" y="336.9" width="37.2" height="10.8" fill="#e2e6e6"/>
<rect x="43.2" y="294.5" width="12.4" height="7.8" rx="3.9" fill="#000" fill-opacity="1" filter="url(#b1)"/>
<rect x="56.4" y="297.5" width="10.8" height="3" rx="1.5" fill="#000" fill-opacity="0.12" filter="url(#b2)"/>
<rect x="68.8" y="297.5" width="10.8" height="3" rx="1.5" fill="#000" fill-opacity="0.1" filter="url(#b2)"/>
<rect x="44" y="312.7" width="10.8" height="2.6" rx="1.3" fill="#000" fill-opacity="0.95" filter="url(#b1)"/>
<rect x="56.4" y="312.7" width="10.8" height="2.6" rx="1.3" fill="#000" fill-opacity="0.95" filter="url(#b1)"/>
<rect x="68.8" y="312.7" width="10.8" height="2.6" rx="1.3" fill="#000" fill-opacity="0.95" filter="url(#b1)"/>
<rect x="44" y="325.2" width="10.8" height="2.8" rx="1.4" fill="#000" fill-opacity="0.95" filter="url(#b1)"/>
<rect x="56.4" y="325.4" width="10.8" height="2.8" rx="1.4" fill="#000" fill-opacity="0.95" filter="url(#b1)"/>
<rect x="68.8" y="325.4" width="10.8" height="2.8" rx="1.4" fill="#000" fill-opacity="0.95" filter="url(#b1)"/>
<rect x="44" y="328.6" width="10.8" height="2" rx="1" fill="#000" fill-opacity="0.2" filter="url(#b2)"/>
<rect x="56.4" y="328.6" width="10.8" height="2" rx="1" fill="#000" fill-opacity="0.2" filter="url(#b2)"/>
<rect x="68.8" y="328.6" width="10.8" height="2" rx="1" fill="#000" fill-opacity="0.2" filter="url(#b2)"/>
<rect x="44" y="340.1" width="10.8" height="2.6" rx="1.3" fill="#000" fill-opacity="0.95" filter="url(#b1)"/>
<rect x="56.4" y="340.1" width="10.8" height="2.6" rx="1.3" fill="#000" fill-opacity="0.95" filter="url(#b1)"/>
<rect x="68.8" y="340.1" width="10.8" height="2.6" rx="1.3" fill="#000" fill-opacity="0.95" filter="url(#b1)"/>
<text x="35.3" y="302.3" font-size="9" text-anchor="end" textLength="20.3" lengthAdjust="spacingAndGlyphs" class="bl">KRAS</text>
<text x="35.3" y="317" font-size="9" text-anchor="end" textLength="20.3" lengthAdjust="spacingAndGlyphs" class="bl">HRAS</text>
<text x="35.3" y="331.3" font-size="9" text-anchor="end" textLength="20.3" lengthAdjust="spacingAndGlyphs" class="bl">NRAS</text>
<text x="37" y="346.7" font-size="9" text-anchor="end" textLength="26" lengthAdjust="spacingAndGlyphs" class="bl">β–actin</text>
<text x="144.8" y="266.26" font-size="8.6" text-anchor="middle" textLength="25.1" lengthAdjust="spacingAndGlyphs">KMS20</text>
<line x1="123" y1="269.4" x2="173.7" y2="269.4" stroke="#000" stroke-width="1.3"/>
<text x="145.2" y="279.06" font-size="8.6" text-anchor="middle" textLength="50.2" lengthAdjust="spacingAndGlyphs">AZD4785[μM]</text>
<line x1="123" y1="282.5" x2="173.7" y2="282.5" stroke="#000" stroke-width="1.3"/>
<text x="133.9" y="290.37" font-size="6.3" text-anchor="middle">0</text>
<text x="145.2" y="290.37" font-size="6.3" text-anchor="middle">3.3</text>
<text x="159.4" y="290.37" font-size="6.3" text-anchor="middle">5</text>
<rect x="127" y="296.7" width="32.7" height="12.1" fill="#e2e6e6"/>
<rect x="127" y="311.6" width="32.7" height="9.2" fill="#d6dada"/>
<rect x="127" y="323.7" width="32.7" height="10.1" fill="#c6cbcb"/>
<rect x="127" y="336.9" width="32.7" height="10.8" fill="#e2e6e6"/>
<rect x="127.8" y="299.5" width="9.3" height="2.6" rx="1.3" fill="#000" fill-opacity="0.8" filter="url(#b1)"/>
<rect x="127.8" y="302.9" width="9.3" height="2.2" rx="1.1" fill="#000" fill-opacity="0.35" filter="url(#b2)"/>
<rect x="138.7" y="299.75" width="9.3" height="2.5" rx="1.25" fill="#000" fill-opacity="0.08" filter="url(#b2)"/>
<rect x="149.6" y="299.75" width="9.3" height="2.5" rx="1.25" fill="#000" fill-opacity="0.06" filter="url(#b2)"/>
<rect x="127.8" y="314.7" width="9.3" height="2.6" rx="1.3" fill="#000" fill-opacity="0.92" filter="url(#b1)"/>
<rect x="138.7" y="315" width="9.3" height="2.4" rx="1.2" fill="#000" fill-opacity="0.8" filter="url(#b1)"/>
<rect x="149.6" y="314.5" width="9.3" height="2.6" rx="1.3" fill="#000" fill-opacity="0.92" filter="url(#b1)"/>
<rect x="127.8" y="327" width="9.3" height="3" rx="1.5" fill="#000" fill-opacity="1" filter="url(#b1)"/>
<rect x="138.7" y="327" width="9.3" height="3" rx="1.5" fill="#000" fill-opacity="1" filter="url(#b1)"/>
<rect x="149.6" y="327" width="9.3" height="3" rx="1.5" fill="#000" fill-opacity="1" filter="url(#b1)"/>
<rect x="127.8" y="340.3" width="9.3" height="2.8" rx="1.4" fill="#000" fill-opacity="0.95" filter="url(#b1)"/>
<rect x="138.7" y="340.3" width="9.3" height="2.8" rx="1.4" fill="#000" fill-opacity="0.95" filter="url(#b1)"/>
<rect x="149.6" y="340.3" width="9.3" height="2.8" rx="1.4" fill="#000" fill-opacity="0.95" filter="url(#b1)"/>
<text x="122.3" y="302.3" font-size="9" text-anchor="end" textLength="20.3" lengthAdjust="spacingAndGlyphs" class="bl">KRAS</text>
<text x="122.3" y="317" font-size="9" text-anchor="end" textLength="20.3" lengthAdjust="spacingAndGlyphs" class="bl">HRAS</text>
<text x="122.3" y="331.3" font-size="9" text-anchor="end" textLength="20.3" lengthAdjust="spacingAndGlyphs" class="bl">NRAS</text>
<text x="124" y="346.7" font-size="9" text-anchor="end" textLength="26" lengthAdjust="spacingAndGlyphs" class="bl">β–actin</text>
<text x="321.2" y="266.26" font-size="8.6" text-anchor="middle" textLength="24.3" lengthAdjust="spacingAndGlyphs">OPM2</text>
<line x1="295.3" y1="269.4" x2="346.3" y2="269.4" stroke="#000" stroke-width="1.3"/>
<text x="320.8" y="279.06" font-size="8.6" text-anchor="middle" textLength="50.5" lengthAdjust="spacingAndGlyphs">AZD4785[μM]</text>
<line x1="295.3" y1="282.5" x2="346.3" y2="282.5" stroke="#000" stroke-width="1.3"/>
<text x="310" y="290.37" font-size="6.3" text-anchor="middle">0</text>
<text x="322.5" y="290.37" font-size="6.3" text-anchor="middle">3.3</text>
<text x="336" y="290.37" font-size="6.3" text-anchor="middle">5</text>
<rect x="301.5" y="296.8" width="42.2" height="11.5" fill="#e2e6e6"/>
<rect x="301.5" y="312.8" width="42.2" height="10.2" fill="#d6dada"/>
<rect x="301.5" y="325.6" width="42.2" height="10.3" fill="#c6cbcb"/>
<rect x="301.5" y="339.5" width="42.2" height="9.3" fill="#c6cbcb"/>
<rect x="301.8" y="301.8" width="13.47" height="4.4" rx="2.2" fill="#000" fill-opacity="1" filter="url(#b1)"/>
<rect x="316.37" y="302.4" width="12.47" height="3.2" rx="1.6" fill="#000" fill-opacity="0.9" filter="url(#b1)"/>
<rect x="330.43" y="302.8" width="12.47" height="2.8" rx="1.4" fill="#000" fill-opacity="0.65" filter="url(#b1)"/>
<rect x="302.3" y="316.3" width="12.47" height="2.6" rx="1.3" fill="#000" fill-opacity="0.6" filter="url(#b1)"/>
<rect x="316.37" y="315.6" width="12.47" height="3.6" rx="1.8" fill="#000" fill-opacity="0.92" filter="url(#b1)"/>
<rect x="330.43" y="315.5" width="12.47" height="3.8" rx="1.9" fill="#000" fill-opacity="0.95" filter="url(#b1)"/>
<rect x="302.3" y="319.4" width="12.47" height="2" rx="1" fill="#000" fill-opacity="0.3" filter="url(#b2)"/>
<rect x="316.37" y="319.4" width="12.47" height="2" rx="1" fill="#000" fill-opacity="0.35" filter="url(#b2)"/>
<rect x="330.43" y="319.4" width="12.47" height="2" rx="1" fill="#000" fill-opacity="0.35" filter="url(#b2)"/>
<rect x="302.3" y="328.3" width="12.47" height="3" rx="1.5" fill="#000" fill-opacity="0.85" filter="url(#b1)"/>
<rect x="316.37" y="328.2" width="12.47" height="3.2" rx="1.6" fill="#000" fill-opacity="0.88" filter="url(#b1)"/>
<rect x="330.43" y="328" width="12.47" height="3.6" rx="1.8" fill="#000" fill-opacity="0.95" filter="url(#b1)"/>
<rect x="301.6" y="341.2" width="13.87" height="5.6" rx="2.8" fill="#000" fill-opacity="0.95" filter="url(#b1)"/>
<rect x="315.67" y="341.2" width="13.87" height="5.6" rx="2.8" fill="#000" fill-opacity="0.95" filter="url(#b1)"/>
<rect x="329.73" y="341.1" width="13.87" height="5.8" rx="2.9" fill="#000" fill-opacity="0.98" filter="url(#b1)"/>
<text x="294.8" y="302.3" font-size="9" text-anchor="end" textLength="20.3" lengthAdjust="spacingAndGlyphs" class="bl">KRAS</text>
<text x="294.8" y="317" font-size="9" text-anchor="end" textLength="20.3" lengthAdjust="spacingAndGlyphs" class="bl">HRAS</text>
<text x="294.8" y="331.3" font-size="9" text-anchor="end" textLength="20.3" lengthAdjust="spacingAndGlyphs" class="bl">NRAS</text>
<text x="297" y="346.7" font-size="9" text-anchor="end" textLength="26" lengthAdjust="spacingAndGlyphs" class="bl">β–actin</text>
<text x="404.5" y="266.26" font-size="8.6" text-anchor="middle" textLength="25.1" lengthAdjust="spacingAndGlyphs">KMS12</text>
<line x1="381.8" y1="269.4" x2="433.7" y2="269.4" stroke="#000" stroke-width="1.3"/>
<text x="404" y="279.06" font-size="8.6" text-anchor="middle" textLength="51.4" lengthAdjust="spacingAndGlyphs">AZD4785[μM]</text>
<line x1="381.8" y1="282.5" x2="433.7" y2="282.5" stroke="#000" stroke-width="1.3"/>
<text x="393" y="290.37" font-size="6.3" text-anchor="middle">0</text>
<text x="404.8" y="290.37" font-size="6.3" text-anchor="middle">3.3</text>
<text x="419" y="290.37" font-size="6.3" text-anchor="middle">5</text>
<rect x="384.2" y="294" width="43.4" height="11.9" fill="#e2e6e6"/>
<rect x="384.2" y="310.6" width="43.4" height="9.6" fill="#d6dada"/>
<rect x="384.2" y="326" width="43.4" height="9.5" fill="#d6dada"/>
<rect x="384.2" y="339.7" width="43.4" height="9" fill="#e2e6e6"/>
<rect x="385" y="296.6" width="12.87" height="2.6" rx="1.3" fill="#000" fill-opacity="0.6" filter="url(#b1)"/>
<rect x="385" y="299.5" width="12.87" height="2.2" rx="1.1" fill="#000" fill-opacity="0.3" filter="url(#b2)"/>
<rect x="399.47" y="296.9" width="12.87" height="2.6" rx="1.3" fill="#000" fill-opacity="0.17" filter="url(#b2)"/>
<rect x="413.93" y="296.9" width="12.87" height="2.6" rx="1.3" fill="#000" fill-opacity="0.15" filter="url(#b2)"/>
<rect x="385" y="315.8" width="12.87" height="2.4" rx="1.2" fill="#000" fill-opacity="0.6" filter="url(#b1)"/>
<rect x="399.47" y="315.3" width="12.87" height="3" rx="1.5" fill="#000" fill-opacity="0.95" filter="url(#b1)"/>
<rect x="413.93" y="315.2" width="12.87" height="3.2" rx="1.6" fill="#000" fill-opacity="0.95" filter="url(#b1)"/>
<rect x="385" y="329" width="12.87" height="2.4" rx="1.2" fill="#000" fill-opacity="0.6" filter="url(#b1)"/>
<rect x="399.47" y="328.4" width="12.87" height="3.2" rx="1.6" fill="#000" fill-opacity="0.95" filter="url(#b1)"/>
<rect x="413.93" y="328.1" width="12.87" height="3.4" rx="1.7" fill="#000" fill-opacity="0.95" filter="url(#b1)"/>
<rect x="385" y="341.3" width="12.87" height="3.2" rx="1.6" fill="#000" fill-opacity="0.9" filter="url(#b1)"/>
<rect x="399.47" y="341.4" width="12.87" height="3" rx="1.5" fill="#000" fill-opacity="0.9" filter="url(#b1)"/>
<rect x="413.93" y="341.2" width="12.87" height="3.4" rx="1.7" fill="#000" fill-opacity="0.92" filter="url(#b1)"/>
<text x="381.8" y="302.3" font-size="9" text-anchor="end" textLength="20.3" lengthAdjust="spacingAndGlyphs" class="bl">KRAS</text>
<text x="381.8" y="317" font-size="9" text-anchor="end" textLength="20.3" lengthAdjust="spacingAndGlyphs" class="bl">HRAS</text>
<text x="381.8" y="331.3" font-size="9" text-anchor="end" textLength="20.3" lengthAdjust="spacingAndGlyphs" class="bl">NRAS</text>
<text x="382.5" y="346.7" font-size="9" text-anchor="end" textLength="26" lengthAdjust="spacingAndGlyphs" class="bl">β–actin</text>
<text x="11.8" y="370.63" font-size="12" text-anchor="middle" font-weight="bold">C</text>
<rect x="43.6" y="403.78" width="4.7" height="63.42" fill="#c8001e"/>
<line x1="45.95" y1="401.88" x2="45.95" y2="403.78" stroke="#000" stroke-width="0.9"/>
<line x1="44.35" y1="402.38" x2="47.55" y2="402.38" stroke="#000" stroke-width="1"/>
<rect x="48.3" y="403.78" width="4.7" height="63.42" fill="#0036ad"/>
<line x1="50.65" y1="403.15" x2="50.65" y2="403.78" stroke="#000" stroke-width="0.9"/>
<line x1="49.05" y1="403.65" x2="52.25" y2="403.65" stroke="#000" stroke-width="1"/>
<rect x="58.77" y="464.03" width="4.7" height="3.17" fill="#c8001e"/>
<line x1="61.12" y1="456.42" x2="61.12" y2="464.03" stroke="#000" stroke-width="0.9"/>
<line x1="59.52" y1="456.92" x2="62.72" y2="456.92" stroke="#000" stroke-width="1"/>
<rect x="63.47" y="422.17" width="4.7" height="45.03" fill="#0036ad"/>
<line x1="65.82" y1="412.03" x2="65.82" y2="422.17" stroke="#000" stroke-width="0.9"/>
<line x1="64.22" y1="412.53" x2="67.42" y2="412.53" stroke="#000" stroke-width="1"/>
<rect x="73.94" y="465.3" width="4.7" height="1.9" fill="#c8001e"/>
<line x1="76.29" y1="464.03" x2="76.29" y2="465.3" stroke="#000" stroke-width="0.9"/>
<line x1="74.69" y1="464.53" x2="77.89" y2="464.53" stroke="#000" stroke-width="1"/>
<rect x="78.64" y="404.42" width="4.7" height="62.78" fill="#0036ad"/>
<line x1="80.99" y1="403.78" x2="80.99" y2="404.42" stroke="#000" stroke-width="0.9"/>
<line x1="79.39" y1="404.28" x2="82.59" y2="404.28" stroke="#000" stroke-width="1"/>
<rect x="89.11" y="466.25" width="4.7" height="0.95" fill="#c8001e"/>
<line x1="91.46" y1="465.93" x2="91.46" y2="466.25" stroke="#000" stroke-width="0.9"/>
<line x1="89.86" y1="466.43" x2="93.06" y2="466.43" stroke="#000" stroke-width="1"/>
<rect x="93.81" y="415.2" width="4.7" height="52" fill="#0036ad"/>
<line x1="96.16" y1="414.56" x2="96.16" y2="415.2" stroke="#000" stroke-width="0.9"/>
<line x1="94.56" y1="415.06" x2="97.76" y2="415.06" stroke="#000" stroke-width="1"/>
<rect x="104.28" y="466.25" width="4.7" height="0.95" fill="#c8001e"/>
<line x1="106.63" y1="460.22" x2="106.63" y2="466.25" stroke="#000" stroke-width="0.9"/>
<line x1="105.03" y1="460.72" x2="108.23" y2="460.72" stroke="#000" stroke-width="1"/>
<rect x="108.98" y="415.83" width="4.7" height="51.37" fill="#0036ad"/>
<line x1="111.33" y1="415.2" x2="111.33" y2="415.83" stroke="#000" stroke-width="0.9"/>
<line x1="109.73" y1="415.7" x2="112.93" y2="415.7" stroke="#000" stroke-width="1"/>
<rect x="119.45" y="466.25" width="4.7" height="0.95" fill="#c8001e"/>
<line x1="121.8" y1="465.93" x2="121.8" y2="466.25" stroke="#000" stroke-width="0.9"/>
<line x1="120.2" y1="466.43" x2="123.4" y2="466.43" stroke="#000" stroke-width="1"/>
<rect x="124.15" y="412.03" width="4.7" height="55.17" fill="#0036ad"/>
<line x1="126.5" y1="410.12" x2="126.5" y2="412.03" stroke="#000" stroke-width="0.9"/>
<line x1="124.9" y1="410.62" x2="128.1" y2="410.62" stroke="#000" stroke-width="1"/>
<rect x="134.62" y="465.93" width="4.7" height="1.27" fill="#c8001e"/>
<line x1="136.97" y1="464.03" x2="136.97" y2="465.93" stroke="#000" stroke-width="0.9"/>
<line x1="135.37" y1="464.53" x2="138.57" y2="464.53" stroke="#000" stroke-width="1"/>
<rect x="139.32" y="412.66" width="4.7" height="54.54" fill="#0036ad"/>
<line x1="141.67" y1="410.12" x2="141.67" y2="412.66" stroke="#000" stroke-width="0.9"/>
<line x1="140.07" y1="410.62" x2="143.27" y2="410.62" stroke="#000" stroke-width="1"/>
<line x1="40.3" y1="390.6" x2="40.3" y2="467.8" stroke="#000" stroke-width="1.15"/>
<line x1="39.8" y1="467.55" x2="154.4" y2="467.55" stroke="#000" stroke-width="1.4"/>
<line x1="37.8" y1="467.2" x2="40.3" y2="467.2" stroke="#000" stroke-width="0.9"/>
<text x="37.9" y="470.16" font-size="7.6" text-anchor="end">0</text>
<line x1="37.8" y1="454.52" x2="40.3" y2="454.52" stroke="#000" stroke-width="0.9"/>
<text x="37.9" y="457.48" font-size="7.6" text-anchor="end">0.2</text>
<line x1="37.8" y1="441.83" x2="40.3" y2="441.83" stroke="#000" stroke-width="0.9"/>
<text x="37.9" y="444.8" font-size="7.6" text-anchor="end">0.4</text>
<line x1="37.8" y1="429.15" x2="40.3" y2="429.15" stroke="#000" stroke-width="0.9"/>
<text x="37.9" y="432.11" font-size="7.6" text-anchor="end">0.6</text>
<line x1="37.8" y1="416.47" x2="40.3" y2="416.47" stroke="#000" stroke-width="0.9"/>
<text x="37.9" y="419.43" font-size="7.6" text-anchor="end">0.8</text>
<line x1="37.8" y1="403.78" x2="40.3" y2="403.78" stroke="#000" stroke-width="0.9"/>
<text x="37.9" y="406.75" font-size="7.6" text-anchor="end">1</text>
<line x1="37.8" y1="391.1" x2="40.3" y2="391.1" stroke="#000" stroke-width="0.9"/>
<text x="37.9" y="394.06" font-size="7.6" text-anchor="end">1.2</text>
<text x="48.8" y="477.69" font-size="8.7" text-anchor="middle" textLength="4.6" lengthAdjust="spacingAndGlyphs">0</text>
<text x="65.1" y="477.69" font-size="8.7" text-anchor="middle" textLength="11.49" lengthAdjust="spacingAndGlyphs">0.1</text>
<text x="79.9" y="477.69" font-size="8.7" text-anchor="middle" textLength="11.49" lengthAdjust="spacingAndGlyphs">0.3</text>
<text x="96.2" y="477.69" font-size="8.7" text-anchor="middle" textLength="11.49" lengthAdjust="spacingAndGlyphs">1.1</text>
<text x="111.3" y="477.69" font-size="8.7" text-anchor="middle" textLength="11.49" lengthAdjust="spacingAndGlyphs">3.3</text>
<text x="124.5" y="477.69" font-size="8.7" text-anchor="middle" textLength="4.6" lengthAdjust="spacingAndGlyphs">5</text>
<text x="141" y="477.69" font-size="8.7" text-anchor="middle" textLength="9.19" lengthAdjust="spacingAndGlyphs">10</text>
<line x1="39.8" y1="480.3" x2="154.5" y2="480.3" stroke="#000" stroke-width="1.35"/>
<text x="96.2" y="489.1" font-size="9.6" text-anchor="middle" textLength="23.5" lengthAdjust="spacingAndGlyphs">MM.1S</text>
<text transform="translate(15.2 428) rotate(-90)" x="0" y="3.1" font-size="9" text-anchor="middle" textLength="106.5" lengthAdjust="spacingAndGlyphs">DUSP6 mRNA expression (2<tspan font-size="5" dy="-3">&#8722;&#916;&#916;ct</tspan><tspan dy="3">)</tspan></text>
<rect x="203.4" y="421.19" width="4.75" height="46.21" fill="#c8001e"/>
<line x1="205.78" y1="420.28" x2="205.78" y2="421.19" stroke="#000" stroke-width="0.9"/>
<line x1="204.18" y1="420.78" x2="207.38" y2="420.78" stroke="#000" stroke-width="1"/>
<rect x="208.15" y="421.65" width="4.75" height="45.75" fill="#0036ad"/>
<line x1="210.53" y1="421.19" x2="210.53" y2="421.65" stroke="#000" stroke-width="0.9"/>
<line x1="208.93" y1="421.69" x2="212.12" y2="421.69" stroke="#000" stroke-width="1"/>
<rect x="218.07" y="403.35" width="4.75" height="64.05" fill="#c8001e"/>
<line x1="220.44" y1="402.44" x2="220.44" y2="403.35" stroke="#000" stroke-width="0.9"/>
<line x1="218.84" y1="402.94" x2="222.04" y2="402.94" stroke="#000" stroke-width="1"/>
<rect x="222.82" y="421.65" width="4.75" height="45.75" fill="#0036ad"/>
<line x1="225.19" y1="420.74" x2="225.19" y2="421.65" stroke="#000" stroke-width="0.9"/>
<line x1="223.59" y1="421.24" x2="226.79" y2="421.24" stroke="#000" stroke-width="1"/>
<rect x="232.74" y="415.7" width="4.75" height="51.7" fill="#c8001e"/>
<line x1="235.12" y1="407.01" x2="235.12" y2="415.7" stroke="#000" stroke-width="0.9"/>
<line x1="233.52" y1="407.51" x2="236.72" y2="407.51" stroke="#000" stroke-width="1"/>
<rect x="237.49" y="416.62" width="4.75" height="50.78" fill="#0036ad"/>
<line x1="239.87" y1="416.16" x2="239.87" y2="416.62" stroke="#000" stroke-width="0.9"/>
<line x1="238.27" y1="416.66" x2="241.47" y2="416.66" stroke="#000" stroke-width="1"/>
<rect x="247.41" y="405.64" width="4.75" height="61.76" fill="#c8001e"/>
<line x1="249.78" y1="404.72" x2="249.78" y2="405.64" stroke="#000" stroke-width="0.9"/>
<line x1="248.19" y1="405.22" x2="251.38" y2="405.22" stroke="#000" stroke-width="1"/>
<rect x="252.16" y="421.65" width="4.75" height="45.75" fill="#0036ad"/>
<line x1="254.53" y1="421.19" x2="254.53" y2="421.65" stroke="#000" stroke-width="0.9"/>
<line x1="252.94" y1="421.69" x2="256.13" y2="421.69" stroke="#000" stroke-width="1"/>
<rect x="262.08" y="401.06" width="4.75" height="66.34" fill="#c8001e"/>
<line x1="264.45" y1="400.15" x2="264.45" y2="401.06" stroke="#000" stroke-width="0.9"/>
<line x1="262.85" y1="400.65" x2="266.06" y2="400.65" stroke="#000" stroke-width="1"/>
<rect x="266.83" y="427.14" width="4.75" height="40.26" fill="#0036ad"/>
<line x1="269.2" y1="426.22" x2="269.2" y2="427.14" stroke="#000" stroke-width="0.9"/>
<line x1="267.6" y1="426.72" x2="270.81" y2="426.72" stroke="#000" stroke-width="1"/>
<rect x="276.75" y="408.84" width="4.75" height="58.56" fill="#c8001e"/>
<line x1="279.12" y1="405.64" x2="279.12" y2="408.84" stroke="#000" stroke-width="0.9"/>
<line x1="277.52" y1="406.14" x2="280.73" y2="406.14" stroke="#000" stroke-width="1"/>
<rect x="281.5" y="428.51" width="4.75" height="38.89" fill="#0036ad"/>
<line x1="283.88" y1="427.6" x2="283.88" y2="428.51" stroke="#000" stroke-width="0.9"/>
<line x1="282.27" y1="428.1" x2="285.48" y2="428.1" stroke="#000" stroke-width="1"/>
<rect x="291.42" y="408.38" width="4.75" height="59.02" fill="#c8001e"/>
<line x1="293.8" y1="407.47" x2="293.8" y2="408.38" stroke="#000" stroke-width="0.9"/>
<line x1="292.19" y1="407.97" x2="295.4" y2="407.97" stroke="#000" stroke-width="1"/>
<rect x="296.17" y="422.56" width="4.75" height="44.83" fill="#0036ad"/>
<line x1="298.55" y1="421.65" x2="298.55" y2="422.56" stroke="#000" stroke-width="0.9"/>
<line x1="296.94" y1="422.15" x2="300.15" y2="422.15" stroke="#000" stroke-width="1"/>
<line x1="200.3" y1="393.7" x2="200.3" y2="468" stroke="#000" stroke-width="1.15"/>
<line x1="199.8" y1="467.75" x2="306.1" y2="467.75" stroke="#000" stroke-width="1.4"/>
<line x1="197.8" y1="467.4" x2="200.3" y2="467.4" stroke="#000" stroke-width="0.9"/>
<text x="197.9" y="470.64" font-size="8.4" text-anchor="end">0</text>
<line x1="197.8" y1="458.25" x2="200.3" y2="458.25" stroke="#000" stroke-width="0.9"/>
<text x="197.9" y="461.49" font-size="8.4" text-anchor="end">0.2</text>
<line x1="197.8" y1="449.1" x2="200.3" y2="449.1" stroke="#000" stroke-width="0.9"/>
<text x="197.9" y="452.34" font-size="8.4" text-anchor="end">0.4</text>
<line x1="197.8" y1="439.95" x2="200.3" y2="439.95" stroke="#000" stroke-width="0.9"/>
<text x="197.9" y="443.19" font-size="8.4" text-anchor="end">0.6</text>
<line x1="197.8" y1="430.8" x2="200.3" y2="430.8" stroke="#000" stroke-width="0.9"/>
<text x="197.9" y="434.04" font-size="8.4" text-anchor="end">0.8</text>
<line x1="197.8" y1="421.65" x2="200.3" y2="421.65" stroke="#000" stroke-width="0.9"/>
<text x="197.9" y="424.89" font-size="8.4" text-anchor="end">1</text>
<line x1="197.8" y1="412.5" x2="200.3" y2="412.5" stroke="#000" stroke-width="0.9"/>
<text x="197.9" y="415.74" font-size="8.4" text-anchor="end">1.2</text>
<line x1="197.8" y1="403.35" x2="200.3" y2="403.35" stroke="#000" stroke-width="0.9"/>
<text x="197.9" y="406.59" font-size="8.4" text-anchor="end">1.4</text>
<line x1="197.8" y1="394.2" x2="200.3" y2="394.2" stroke="#000" stroke-width="0.9"/>
<text x="197.9" y="397.44" font-size="8.4" text-anchor="end">1.6</text>
<text x="208.8" y="477.69" font-size="8.7" text-anchor="middle" textLength="4.6" lengthAdjust="spacingAndGlyphs">0</text>
<text x="225" y="477.69" font-size="8.7" text-anchor="middle" textLength="11.49" lengthAdjust="spacingAndGlyphs">0.1</text>
<text x="240" y="477.69" font-size="8.7" text-anchor="middle" textLength="11.49" lengthAdjust="spacingAndGlyphs">0.3</text>
<text x="255.5" y="477.69" font-size="8.7" text-anchor="middle" textLength="11.49" lengthAdjust="spacingAndGlyphs">1.1</text>
<text x="271.2" y="477.69" font-size="8.7" text-anchor="middle" textLength="11.49" lengthAdjust="spacingAndGlyphs">3.3</text>
<text x="284.3" y="477.69" font-size="8.7" text-anchor="middle" textLength="4.6" lengthAdjust="spacingAndGlyphs">5</text>
<text x="300.7" y="477.69" font-size="8.7" text-anchor="middle" textLength="9.19" lengthAdjust="spacingAndGlyphs">10</text>
<line x1="199.6" y1="480.2" x2="305.3" y2="480.2" stroke="#000" stroke-width="1.35"/>
<text x="258.5" y="489.1" font-size="9.6" text-anchor="middle" textLength="19" lengthAdjust="spacingAndGlyphs">U266</text>
<text transform="translate(176.6 428) rotate(-90)" x="0" y="3.1" font-size="9" text-anchor="middle" textLength="106.5" lengthAdjust="spacingAndGlyphs">DUSP6 mRNA expression (2<tspan font-size="5" dy="-3">&#8722;&#916;&#916;ct</tspan><tspan dy="3">)</tspan></text>
<rect x="357.1" y="411.34" width="2.6" height="52.86" fill="#c8001e"/>
<rect x="359.7" y="411.34" width="2.6" height="52.86" fill="#0036ad"/>
<rect x="367.14" y="458.91" width="2.6" height="5.29" fill="#c8001e"/>
<line x1="368.44" y1="457.86" x2="368.44" y2="458.91" stroke="#000" stroke-width="0.9"/>
<line x1="366.84" y1="458.36" x2="370.04" y2="458.36" stroke="#000" stroke-width="1"/>
<rect x="369.74" y="416.1" width="2.6" height="48.1" fill="#0036ad"/>
<rect x="377.18" y="460.5" width="2.6" height="3.7" fill="#c8001e"/>
<line x1="378.48" y1="459.97" x2="378.48" y2="460.5" stroke="#000" stroke-width="0.9"/>
<line x1="376.88" y1="460.47" x2="380.08" y2="460.47" stroke="#000" stroke-width="1"/>
<rect x="379.78" y="405.53" width="2.6" height="58.67" fill="#0036ad"/>
<rect x="387.22" y="411.34" width="2.6" height="52.86" fill="#c8001e"/>
<rect x="389.82" y="411.34" width="2.6" height="52.86" fill="#0036ad"/>
<rect x="397.26" y="453.1" width="2.6" height="11.1" fill="#c8001e"/>
<rect x="399.86" y="416.1" width="2.6" height="48.1" fill="#0036ad"/>
<rect x="407.3" y="450.46" width="2.6" height="13.74" fill="#c8001e"/>
<rect x="409.9" y="413.46" width="2.6" height="50.74" fill="#0036ad"/>
<rect x="417.34" y="411.34" width="2.6" height="52.86" fill="#c8001e"/>
<rect x="419.94" y="411.34" width="2.6" height="52.86" fill="#0036ad"/>
<rect x="427.38" y="404.47" width="2.6" height="59.73" fill="#c8001e"/>
<rect x="429.98" y="403.41" width="2.6" height="60.79" fill="#0036ad"/>
<rect x="437.42" y="425.61" width="2.6" height="38.59" fill="#c8001e"/>
<rect x="440.02" y="405" width="2.6" height="59.2" fill="#0036ad"/>
<rect x="447.46" y="411.34" width="2.6" height="52.86" fill="#c8001e"/>
<rect x="450.06" y="411.34" width="2.6" height="52.86" fill="#0036ad"/>
<rect x="457.5" y="396.01" width="2.6" height="68.19" fill="#c8001e"/>
<line x1="458.8" y1="393.9" x2="458.8" y2="396.01" stroke="#000" stroke-width="0.9"/>
<line x1="457.2" y1="394.4" x2="460.4" y2="394.4" stroke="#000" stroke-width="1"/>
<rect x="460.1" y="393.9" width="2.6" height="70.3" fill="#0036ad"/>
<rect x="467.54" y="422.97" width="2.6" height="41.23" fill="#c8001e"/>
<rect x="470.14" y="395.49" width="2.6" height="68.71" fill="#0036ad"/>
<line x1="354" y1="389.7" x2="354" y2="464.8" stroke="#000" stroke-width="1.15"/>
<line x1="353.5" y1="464.55" x2="476" y2="464.55" stroke="#000" stroke-width="1.4"/>
<line x1="351.5" y1="464.2" x2="354" y2="464.2" stroke="#000" stroke-width="0.9"/>
<text x="351.6" y="467.1" font-size="7.4" text-anchor="end">0</text>
<line x1="351.5" y1="453.63" x2="354" y2="453.63" stroke="#000" stroke-width="0.9"/>
<text x="351.6" y="456.52" font-size="7.4" text-anchor="end">0.2</text>
<line x1="351.5" y1="443.06" x2="354" y2="443.06" stroke="#000" stroke-width="0.9"/>
<text x="351.6" y="445.95" font-size="7.4" text-anchor="end">0.4</text>
<line x1="351.5" y1="432.49" x2="354" y2="432.49" stroke="#000" stroke-width="0.9"/>
<text x="351.6" y="435.38" font-size="7.4" text-anchor="end">0.6</text>
<line x1="351.5" y1="421.91" x2="354" y2="421.91" stroke="#000" stroke-width="0.9"/>
<text x="351.6" y="424.81" font-size="7.4" text-anchor="end">0.8</text>
<line x1="351.5" y1="411.34" x2="354" y2="411.34" stroke="#000" stroke-width="0.9"/>
<text x="351.6" y="414.24" font-size="7.4" text-anchor="end">1</text>
<line x1="351.5" y1="400.77" x2="354" y2="400.77" stroke="#000" stroke-width="0.9"/>
<text x="351.6" y="403.67" font-size="7.4" text-anchor="end">1.2</text>
<line x1="351.5" y1="390.2" x2="354" y2="390.2" stroke="#000" stroke-width="0.9"/>
<text x="351.6" y="393.1" font-size="7.4" text-anchor="end">1.4</text>
<text x="358.3" y="472.79" font-size="8.7" text-anchor="middle" textLength="4.6" lengthAdjust="spacingAndGlyphs">0</text>
<text x="367" y="472.79" font-size="8.7" text-anchor="middle" textLength="11.49" lengthAdjust="spacingAndGlyphs">3.3</text>
<text x="379.8" y="472.79" font-size="8.7" text-anchor="middle" textLength="4.6" lengthAdjust="spacingAndGlyphs">5</text>
<text x="390" y="472.79" font-size="8.7" text-anchor="middle" textLength="4.6" lengthAdjust="spacingAndGlyphs">0</text>
<text x="399.8" y="472.79" font-size="8.7" text-anchor="middle" textLength="11.49" lengthAdjust="spacingAndGlyphs">3.3</text>
<text x="412" y="472.79" font-size="8.7" text-anchor="middle" textLength="4.6" lengthAdjust="spacingAndGlyphs">5</text>
<text x="422" y="472.79" font-size="8.7" text-anchor="middle" textLength="4.6" lengthAdjust="spacingAndGlyphs">0</text>
<text x="432.8" y="472.79" font-size="8.7" text-anchor="middle" textLength="11.49" lengthAdjust="spacingAndGlyphs">3.3</text>
<text x="443.2" y="472.79" font-size="8.7" text-anchor="middle" textLength="4.6" lengthAdjust="spacingAndGlyphs">5</text>
<text x="453.4" y="472.79" font-size="8.7" text-anchor="middle" textLength="4.6" lengthAdjust="spacingAndGlyphs">0</text>
<text x="464.6" y="472.79" font-size="8.7" text-anchor="middle" textLength="11.49" lengthAdjust="spacingAndGlyphs">3.3</text>
<text x="478.1" y="472.79" font-size="8.7" text-anchor="middle" textLength="4.6" lengthAdjust="spacingAndGlyphs">5</text>
<line x1="352.7" y1="476" x2="381.8" y2="476" stroke="#000" stroke-width="1.35"/>
<text x="370" y="486.16" font-size="9.2" text-anchor="middle" textLength="23.7" lengthAdjust="spacingAndGlyphs">MM.1R</text>
<line x1="385" y1="476" x2="414.6" y2="476" stroke="#000" stroke-width="1.35"/>
<text x="403" y="486.16" font-size="9.2" text-anchor="middle" textLength="36.9" lengthAdjust="spacingAndGlyphs">RPMI.8226</text>
<line x1="418.7" y1="476" x2="447" y2="476" stroke="#000" stroke-width="1.35"/>
<text x="435.7" y="486.16" font-size="9.2" text-anchor="middle" textLength="19.7" lengthAdjust="spacingAndGlyphs">OPM2</text>
<line x1="450.2" y1="476" x2="479.8" y2="476" stroke="#000" stroke-width="1.35"/>
<text x="467.1" y="486.16" font-size="9.2" text-anchor="middle" textLength="24.2" lengthAdjust="spacingAndGlyphs">KMS12</text>
<text transform="translate(331.5 428) rotate(-90)" x="0" y="3.1" font-size="9" text-anchor="middle" textLength="106.5" lengthAdjust="spacingAndGlyphs">DUSP6 mRNA expression (2<tspan font-size="5" dy="-3">&#8722;&#916;&#916;ct</tspan><tspan dy="3">)</tspan></text>
<rect x="455.5" y="364.4" width="9.9" height="5.1" fill="#c8001e"/>
<text x="466.5" y="369.41" font-size="7" textLength="43" lengthAdjust="spacingAndGlyphs">AZD4785[μM]</text>
<rect x="455.5" y="376.4" width="9.9" height="5.3" fill="#0036ad"/>
<text x="466.5" y="381.51" font-size="7" textLength="42" lengthAdjust="spacingAndGlyphs">Ctrl-ASO[μM]</text>
<rect x="41.1" y="524.33" width="4.9" height="66.17" fill="#c8001e"/>
<line x1="43.55" y1="518.38" x2="43.55" y2="524.33" stroke="#000" stroke-width="0.9"/>
<line x1="41.95" y1="518.88" x2="45.15" y2="518.88" stroke="#000" stroke-width="1"/>
<rect x="46" y="524.33" width="4.9" height="66.17" fill="#0036ad"/>
<line x1="48.45" y1="519.7" x2="48.45" y2="524.33" stroke="#000" stroke-width="0.9"/>
<line x1="46.85" y1="520.2" x2="50.05" y2="520.2" stroke="#000" stroke-width="1"/>
<rect x="56.87" y="587.52" width="4.9" height="2.98" fill="#c8001e"/>
<line x1="59.32" y1="579.91" x2="59.32" y2="587.52" stroke="#000" stroke-width="0.9"/>
<line x1="57.72" y1="580.41" x2="60.92" y2="580.41" stroke="#000" stroke-width="1"/>
<rect x="61.77" y="530.29" width="4.9" height="60.21" fill="#0036ad"/>
<line x1="64.22" y1="519.7" x2="64.22" y2="530.29" stroke="#000" stroke-width="0.9"/>
<line x1="62.62" y1="520.2" x2="65.82" y2="520.2" stroke="#000" stroke-width="1"/>
<rect x="72.64" y="587.19" width="4.9" height="3.31" fill="#c8001e"/>
<line x1="75.09" y1="586.53" x2="75.09" y2="587.19" stroke="#000" stroke-width="0.9"/>
<line x1="73.49" y1="587.03" x2="76.69" y2="587.03" stroke="#000" stroke-width="1"/>
<rect x="77.54" y="526.98" width="4.9" height="63.52" fill="#0036ad"/>
<line x1="79.99" y1="526.32" x2="79.99" y2="526.98" stroke="#000" stroke-width="0.9"/>
<line x1="78.39" y1="526.82" x2="81.59" y2="526.82" stroke="#000" stroke-width="1"/>
<rect x="88.41" y="587.85" width="4.9" height="2.65" fill="#c8001e"/>
<line x1="90.86" y1="587.19" x2="90.86" y2="587.85" stroke="#000" stroke-width="0.9"/>
<line x1="89.26" y1="587.69" x2="92.46" y2="587.69" stroke="#000" stroke-width="1"/>
<rect x="93.31" y="525" width="4.9" height="65.5" fill="#0036ad"/>
<line x1="95.76" y1="524.33" x2="95.76" y2="525" stroke="#000" stroke-width="0.9"/>
<line x1="94.16" y1="524.83" x2="97.36" y2="524.83" stroke="#000" stroke-width="1"/>
<rect x="104.18" y="587.85" width="4.9" height="2.65" fill="#c8001e"/>
<line x1="106.63" y1="585.21" x2="106.63" y2="587.85" stroke="#000" stroke-width="0.9"/>
<line x1="105.03" y1="585.71" x2="108.23" y2="585.71" stroke="#000" stroke-width="1"/>
<rect x="109.08" y="531.61" width="4.9" height="58.89" fill="#0036ad"/>
<line x1="111.53" y1="521.69" x2="111.53" y2="531.61" stroke="#000" stroke-width="0.9"/>
<line x1="109.93" y1="522.19" x2="113.13" y2="522.19" stroke="#000" stroke-width="1"/>
<rect x="119.95" y="587.19" width="4.9" height="3.31" fill="#c8001e"/>
<line x1="122.4" y1="586.53" x2="122.4" y2="587.19" stroke="#000" stroke-width="0.9"/>
<line x1="120.8" y1="587.03" x2="124" y2="587.03" stroke="#000" stroke-width="1"/>
<rect x="124.85" y="535.58" width="4.9" height="54.92" fill="#0036ad"/>
<line x1="127.3" y1="525.66" x2="127.3" y2="535.58" stroke="#000" stroke-width="0.9"/>
<line x1="125.7" y1="526.16" x2="128.9" y2="526.16" stroke="#000" stroke-width="1"/>
<rect x="135.72" y="586.53" width="4.9" height="3.97" fill="#c8001e"/>
<line x1="138.17" y1="585.87" x2="138.17" y2="586.53" stroke="#000" stroke-width="0.9"/>
<line x1="136.57" y1="586.37" x2="139.77" y2="586.37" stroke="#000" stroke-width="1"/>
<rect x="140.62" y="530.95" width="4.9" height="59.55" fill="#0036ad"/>
<line x1="143.07" y1="530.29" x2="143.07" y2="530.95" stroke="#000" stroke-width="0.9"/>
<line x1="141.47" y1="530.79" x2="144.67" y2="530.79" stroke="#000" stroke-width="1"/>
<line x1="40.1" y1="510.6" x2="40.1" y2="591.1" stroke="#000" stroke-width="1.15"/>
<line x1="39.6" y1="590.85" x2="154.4" y2="590.85" stroke="#000" stroke-width="1.4"/>
<line x1="37.6" y1="590.5" x2="40.1" y2="590.5" stroke="#000" stroke-width="0.9"/>
<text x="37.7" y="593.57" font-size="7.9" text-anchor="end">0</text>
<line x1="37.6" y1="577.27" x2="40.1" y2="577.27" stroke="#000" stroke-width="0.9"/>
<text x="37.7" y="580.33" font-size="7.9" text-anchor="end">0.2</text>
<line x1="37.6" y1="564.03" x2="40.1" y2="564.03" stroke="#000" stroke-width="0.9"/>
<text x="37.7" y="567.1" font-size="7.9" text-anchor="end">0.4</text>
<line x1="37.6" y1="550.8" x2="40.1" y2="550.8" stroke="#000" stroke-width="0.9"/>
<text x="37.7" y="553.87" font-size="7.9" text-anchor="end">0.6</text>
<line x1="37.6" y1="537.57" x2="40.1" y2="537.57" stroke="#000" stroke-width="0.9"/>
<text x="37.7" y="540.63" font-size="7.9" text-anchor="end">0.8</text>
<line x1="37.6" y1="524.33" x2="40.1" y2="524.33" stroke="#000" stroke-width="0.9"/>
<text x="37.7" y="527.4" font-size="7.9" text-anchor="end">1</text>
<line x1="37.6" y1="511.1" x2="40.1" y2="511.1" stroke="#000" stroke-width="0.9"/>
<text x="37.7" y="514.17" font-size="7.9" text-anchor="end">1.2</text>
<text x="48.8" y="600.69" font-size="8.7" text-anchor="middle" textLength="4.6" lengthAdjust="spacingAndGlyphs">0</text>
<text x="65.1" y="600.69" font-size="8.7" text-anchor="middle" textLength="11.49" lengthAdjust="spacingAndGlyphs">0.1</text>
<text x="79.9" y="600.69" font-size="8.7" text-anchor="middle" textLength="11.49" lengthAdjust="spacingAndGlyphs">0.3</text>
<text x="96.2" y="600.69" font-size="8.7" text-anchor="middle" textLength="11.49" lengthAdjust="spacingAndGlyphs">1.1</text>
<text x="111.3" y="600.69" font-size="8.7" text-anchor="middle" textLength="11.49" lengthAdjust="spacingAndGlyphs">3.3</text>
<text x="124.5" y="600.69" font-size="8.7" text-anchor="middle" textLength="4.6" lengthAdjust="spacingAndGlyphs">5</text>
<text x="141" y="600.69" font-size="8.7" text-anchor="middle" textLength="9.19" lengthAdjust="spacingAndGlyphs">10</text>
<line x1="39.8" y1="603.5" x2="154.5" y2="603.5" stroke="#000" stroke-width="1.35"/>
<text x="96.2" y="612.1" font-size="9.6" text-anchor="middle" textLength="23.5" lengthAdjust="spacingAndGlyphs">MM.1S</text>
<text transform="translate(15.4 551) rotate(-90)" x="0" y="3.1" font-size="9" text-anchor="middle" textLength="99.5" lengthAdjust="spacingAndGlyphs">ETV4 mRNA expression (2<tspan font-size="5" dy="-3">&#8722;&#916;&#916;ct</tspan><tspan dy="3">)</tspan></text>
<rect x="205.7" y="550.31" width="4.85" height="41.29" fill="#c8001e"/>
<line x1="208.12" y1="549.68" x2="208.12" y2="550.31" stroke="#000" stroke-width="0.9"/>
<line x1="206.53" y1="550.18" x2="209.72" y2="550.18" stroke="#000" stroke-width="1"/>
<rect x="210.55" y="550.31" width="4.85" height="41.29" fill="#0036ad"/>
<line x1="212.97" y1="549.68" x2="212.97" y2="550.31" stroke="#000" stroke-width="0.9"/>
<line x1="211.38" y1="550.18" x2="214.57" y2="550.18" stroke="#000" stroke-width="1"/>
<rect x="220.78" y="530.6" width="4.85" height="61" fill="#c8001e"/>
<line x1="223.21" y1="529.76" x2="223.21" y2="530.6" stroke="#000" stroke-width="0.9"/>
<line x1="221.61" y1="530.26" x2="224.81" y2="530.26" stroke="#000" stroke-width="1"/>
<rect x="225.63" y="551.35" width="4.85" height="40.25" fill="#0036ad"/>
<line x1="228.06" y1="550.51" x2="228.06" y2="551.35" stroke="#000" stroke-width="0.9"/>
<line x1="226.46" y1="551.01" x2="229.66" y2="551.01" stroke="#000" stroke-width="1"/>
<rect x="235.86" y="541.38" width="4.85" height="50.22" fill="#c8001e"/>
<line x1="238.28" y1="533.09" x2="238.28" y2="541.38" stroke="#000" stroke-width="0.9"/>
<line x1="236.69" y1="533.59" x2="239.88" y2="533.59" stroke="#000" stroke-width="1"/>
<rect x="240.71" y="545.53" width="4.85" height="46.07" fill="#0036ad"/>
<line x1="243.13" y1="545.12" x2="243.13" y2="545.53" stroke="#000" stroke-width="0.9"/>
<line x1="241.53" y1="545.62" x2="244.73" y2="545.62" stroke="#000" stroke-width="1"/>
<rect x="250.94" y="533.09" width="4.85" height="58.51" fill="#c8001e"/>
<line x1="253.37" y1="532.25" x2="253.37" y2="533.09" stroke="#000" stroke-width="0.9"/>
<line x1="251.77" y1="532.75" x2="254.97" y2="532.75" stroke="#000" stroke-width="1"/>
<rect x="255.79" y="545.12" width="4.85" height="46.48" fill="#0036ad"/>
<line x1="258.21" y1="544.71" x2="258.21" y2="545.12" stroke="#000" stroke-width="0.9"/>
<line x1="256.61" y1="545.21" x2="259.81" y2="545.21" stroke="#000" stroke-width="1"/>
<rect x="266.02" y="525.62" width="4.85" height="65.99" fill="#c8001e"/>
<line x1="268.44" y1="524.78" x2="268.44" y2="525.62" stroke="#000" stroke-width="0.9"/>
<line x1="266.84" y1="525.28" x2="270.05" y2="525.28" stroke="#000" stroke-width="1"/>
<rect x="270.87" y="550.51" width="4.85" height="41.09" fill="#0036ad"/>
<line x1="273.3" y1="550.1" x2="273.3" y2="550.51" stroke="#000" stroke-width="0.9"/>
<line x1="271.69" y1="550.6" x2="274.9" y2="550.6" stroke="#000" stroke-width="1"/>
<rect x="281.1" y="527.27" width="4.85" height="64.33" fill="#c8001e"/>
<line x1="283.53" y1="522.29" x2="283.53" y2="527.27" stroke="#000" stroke-width="0.9"/>
<line x1="281.93" y1="522.79" x2="285.13" y2="522.79" stroke="#000" stroke-width="1"/>
<rect x="285.95" y="555.08" width="4.85" height="36.52" fill="#0036ad"/>
<line x1="288.38" y1="554.66" x2="288.38" y2="555.08" stroke="#000" stroke-width="0.9"/>
<line x1="286.78" y1="555.16" x2="289.98" y2="555.16" stroke="#000" stroke-width="1"/>
<rect x="296.18" y="529.35" width="4.85" height="62.25" fill="#c8001e"/>
<line x1="298.61" y1="527.27" x2="298.61" y2="529.35" stroke="#000" stroke-width="0.9"/>
<line x1="297" y1="527.77" x2="300.21" y2="527.77" stroke="#000" stroke-width="1"/>
<rect x="301.03" y="548.86" width="4.85" height="42.75" fill="#0036ad"/>
<line x1="303.46" y1="548.44" x2="303.46" y2="548.86" stroke="#000" stroke-width="0.9"/>
<line x1="301.86" y1="548.94" x2="305.06" y2="548.94" stroke="#000" stroke-width="1"/>
<line x1="202.2" y1="516.4" x2="202.2" y2="592.2" stroke="#000" stroke-width="1.15"/>
<line x1="201.7" y1="591.95" x2="307.8" y2="591.95" stroke="#000" stroke-width="1.4"/>
<line x1="199.7" y1="591.6" x2="202.2" y2="591.6" stroke="#000" stroke-width="0.9"/>
<text x="199.8" y="594.6" font-size="7.7" text-anchor="end">0</text>
<line x1="199.7" y1="583.3" x2="202.2" y2="583.3" stroke="#000" stroke-width="0.9"/>
<text x="199.8" y="586.3" font-size="7.7" text-anchor="end">0.2</text>
<line x1="199.7" y1="575" x2="202.2" y2="575" stroke="#000" stroke-width="0.9"/>
<text x="199.8" y="578" font-size="7.7" text-anchor="end">0.4</text>
<line x1="199.7" y1="566.7" x2="202.2" y2="566.7" stroke="#000" stroke-width="0.9"/>
<text x="199.8" y="569.7" font-size="7.7" text-anchor="end">0.6</text>
<line x1="199.7" y1="558.4" x2="202.2" y2="558.4" stroke="#000" stroke-width="0.9"/>
<text x="199.8" y="561.4" font-size="7.7" text-anchor="end">0.8</text>
<line x1="199.7" y1="550.1" x2="202.2" y2="550.1" stroke="#000" stroke-width="0.9"/>
<text x="199.8" y="553.1" font-size="7.7" text-anchor="end">1</text>
<line x1="199.7" y1="541.8" x2="202.2" y2="541.8" stroke="#000" stroke-width="0.9"/>
<text x="199.8" y="544.8" font-size="7.7" text-anchor="end">1.2</text>
<line x1="199.7" y1="533.5" x2="202.2" y2="533.5" stroke="#000" stroke-width="0.9"/>
<text x="199.8" y="536.5" font-size="7.7" text-anchor="end">1.4</text>
<line x1="199.7" y1="525.2" x2="202.2" y2="525.2" stroke="#000" stroke-width="0.9"/>
<text x="199.8" y="528.2" font-size="7.7" text-anchor="end">1.6</text>
<line x1="199.7" y1="516.9" x2="202.2" y2="516.9" stroke="#000" stroke-width="0.9"/>
<text x="199.8" y="519.9" font-size="7.7" text-anchor="end">1.8</text>
<text x="208.8" y="600.69" font-size="8.7" text-anchor="middle" textLength="4.6" lengthAdjust="spacingAndGlyphs">0</text>
<text x="227.3" y="600.69" font-size="8.7" text-anchor="middle" textLength="11.49" lengthAdjust="spacingAndGlyphs">0.1</text>
<text x="242.3" y="600.69" font-size="8.7" text-anchor="middle" textLength="11.49" lengthAdjust="spacingAndGlyphs">0.3</text>
<text x="257.3" y="600.69" font-size="8.7" text-anchor="middle" textLength="11.49" lengthAdjust="spacingAndGlyphs">1.1</text>
<text x="271.2" y="600.69" font-size="8.7" text-anchor="middle" textLength="11.49" lengthAdjust="spacingAndGlyphs">3.3</text>
<text x="286.2" y="600.69" font-size="8.7" text-anchor="middle" textLength="4.6" lengthAdjust="spacingAndGlyphs">5</text>
<text x="303" y="600.69" font-size="8.7" text-anchor="middle" textLength="9.19" lengthAdjust="spacingAndGlyphs">10</text>
<line x1="200" y1="603.5" x2="307" y2="603.5" stroke="#000" stroke-width="1.35"/>
<text x="256.2" y="612.1" font-size="9.6" text-anchor="middle" textLength="19" lengthAdjust="spacingAndGlyphs">U266</text>
<text transform="translate(177 551.3) rotate(-90)" x="0" y="3.1" font-size="9" text-anchor="middle" textLength="100" lengthAdjust="spacingAndGlyphs">ETV4 mRNA expression (2<tspan font-size="5" dy="-3">&#8722;&#916;&#916;ct</tspan><tspan dy="3">)</tspan></text>
<rect x="357.1" y="539.47" width="2.6" height="52.43" fill="#c8001e"/>
<rect x="359.7" y="539.47" width="2.6" height="52.43" fill="#0036ad"/>
<rect x="367" y="589.28" width="2.6" height="2.62" fill="#c8001e"/>
<rect x="369.6" y="551.01" width="2.6" height="40.89" fill="#0036ad"/>
<line x1="370.9" y1="548.38" x2="370.9" y2="551.01" stroke="#000" stroke-width="0.9"/>
<line x1="369.3" y1="548.88" x2="372.5" y2="548.88" stroke="#000" stroke-width="1"/>
<rect x="376.9" y="589.28" width="2.6" height="2.62" fill="#c8001e"/>
<rect x="379.5" y="543.14" width="2.6" height="48.76" fill="#0036ad"/>
<line x1="380.8" y1="541.04" x2="380.8" y2="543.14" stroke="#000" stroke-width="0.9"/>
<line x1="379.2" y1="541.54" x2="382.4" y2="541.54" stroke="#000" stroke-width="1"/>
<rect x="386.8" y="539.47" width="2.6" height="52.43" fill="#c8001e"/>
<rect x="389.4" y="539.47" width="2.6" height="52.43" fill="#0036ad"/>
<rect x="396.7" y="581.94" width="2.6" height="9.96" fill="#c8001e"/>
<rect x="399.3" y="541.57" width="2.6" height="50.33" fill="#0036ad"/>
<rect x="406.6" y="583.51" width="2.6" height="8.39" fill="#c8001e"/>
<rect x="409.2" y="547.34" width="2.6" height="44.56" fill="#0036ad"/>
<rect x="416.5" y="539.47" width="2.6" height="52.43" fill="#c8001e"/>
<rect x="419.1" y="539.47" width="2.6" height="52.43" fill="#0036ad"/>
<line x1="420.4" y1="534.23" x2="420.4" y2="539.47" stroke="#000" stroke-width="0.9"/>
<line x1="418.8" y1="534.73" x2="422" y2="534.73" stroke="#000" stroke-width="1"/>
<rect x="426.4" y="554.15" width="2.6" height="37.75" fill="#c8001e"/>
<rect x="429" y="527.94" width="2.6" height="63.96" fill="#0036ad"/>
<rect x="436.3" y="555.2" width="2.6" height="36.7" fill="#c8001e"/>
<line x1="437.6" y1="554.15" x2="437.6" y2="555.2" stroke="#000" stroke-width="0.9"/>
<line x1="436" y1="554.65" x2="439.2" y2="554.65" stroke="#000" stroke-width="1"/>
<rect x="438.9" y="544.19" width="2.6" height="47.71" fill="#0036ad"/>
<line x1="440.2" y1="543.14" x2="440.2" y2="544.19" stroke="#000" stroke-width="0.9"/>
<line x1="438.6" y1="543.64" x2="441.8" y2="543.64" stroke="#000" stroke-width="1"/>
<rect x="446.2" y="539.47" width="2.6" height="52.43" fill="#c8001e"/>
<rect x="448.8" y="539.47" width="2.6" height="52.43" fill="#0036ad"/>
<rect x="456.1" y="548.38" width="2.6" height="43.52" fill="#c8001e"/>
<rect x="458.7" y="539.47" width="2.6" height="52.43" fill="#0036ad"/>
<rect x="466" y="541.57" width="2.6" height="50.33" fill="#c8001e"/>
<rect x="468.6" y="533.18" width="2.6" height="58.72" fill="#0036ad"/>
<line x1="469.9" y1="526.36" x2="469.9" y2="533.18" stroke="#000" stroke-width="0.9"/>
<line x1="468.3" y1="526.86" x2="471.5" y2="526.86" stroke="#000" stroke-width="1"/>
<line x1="354" y1="518" x2="354" y2="592.5" stroke="#000" stroke-width="1.15"/>
<line x1="353.5" y1="592.25" x2="476.6" y2="592.25" stroke="#000" stroke-width="1.4"/>
<line x1="351.5" y1="591.9" x2="354" y2="591.9" stroke="#000" stroke-width="0.9"/>
<text x="351.6" y="594.86" font-size="7.6" text-anchor="end">0</text>
<line x1="351.5" y1="581.41" x2="354" y2="581.41" stroke="#000" stroke-width="0.9"/>
<text x="351.6" y="584.38" font-size="7.6" text-anchor="end">0.2</text>
<line x1="351.5" y1="570.93" x2="354" y2="570.93" stroke="#000" stroke-width="0.9"/>
<text x="351.6" y="573.89" font-size="7.6" text-anchor="end">0.4</text>
<line x1="351.5" y1="560.44" x2="354" y2="560.44" stroke="#000" stroke-width="0.9"/>
<text x="351.6" y="563.41" font-size="7.6" text-anchor="end">0.6</text>
<line x1="351.5" y1="549.96" x2="354" y2="549.96" stroke="#000" stroke-width="0.9"/>
<text x="351.6" y="552.92" font-size="7.6" text-anchor="end">0.8</text>
<line x1="351.5" y1="539.47" x2="354" y2="539.47" stroke="#000" stroke-width="0.9"/>
<text x="351.6" y="542.44" font-size="7.6" text-anchor="end">1</text>
<line x1="351.5" y1="528.99" x2="354" y2="528.99" stroke="#000" stroke-width="0.9"/>
<text x="351.6" y="531.95" font-size="7.6" text-anchor="end">1.2</text>
<line x1="351.5" y1="518.5" x2="354" y2="518.5" stroke="#000" stroke-width="0.9"/>
<text x="351.6" y="521.46" font-size="7.6" text-anchor="end">1.4</text>
<text x="355.9" y="601.79" font-size="8.7" text-anchor="middle" textLength="4.6" lengthAdjust="spacingAndGlyphs">0</text>
<text x="364.8" y="601.79" font-size="8.7" text-anchor="middle" textLength="11.49" lengthAdjust="spacingAndGlyphs">3.3</text>
<text x="375.6" y="601.79" font-size="8.7" text-anchor="middle" textLength="4.6" lengthAdjust="spacingAndGlyphs">5</text>
<text x="385.8" y="601.79" font-size="8.7" text-anchor="middle" textLength="4.6" lengthAdjust="spacingAndGlyphs">0</text>
<text x="397.1" y="601.79" font-size="8.7" text-anchor="middle" textLength="11.49" lengthAdjust="spacingAndGlyphs">3.3</text>
<text x="407.9" y="601.79" font-size="8.7" text-anchor="middle" textLength="4.6" lengthAdjust="spacingAndGlyphs">5</text>
<text x="418.7" y="601.79" font-size="8.7" text-anchor="middle" textLength="4.6" lengthAdjust="spacingAndGlyphs">0</text>
<text x="429.4" y="601.79" font-size="8.7" text-anchor="middle" textLength="11.49" lengthAdjust="spacingAndGlyphs">3.3</text>
<text x="438.9" y="601.79" font-size="8.7" text-anchor="middle" textLength="4.6" lengthAdjust="spacingAndGlyphs">5</text>
<text x="450.4" y="601.79" font-size="8.7" text-anchor="middle" textLength="4.6" lengthAdjust="spacingAndGlyphs">0</text>
<text x="463.1" y="601.79" font-size="8.7" text-anchor="middle" textLength="11.49" lengthAdjust="spacingAndGlyphs">3.3</text>
<text x="475.2" y="601.79" font-size="8.7" text-anchor="middle" textLength="4.6" lengthAdjust="spacingAndGlyphs">5</text>
<line x1="352.7" y1="603.6" x2="378.3" y2="603.6" stroke="#000" stroke-width="1.35"/>
<text x="364.8" y="612.96" font-size="9.2" text-anchor="middle" textLength="24.2" lengthAdjust="spacingAndGlyphs">MM.1R</text>
<line x1="383.7" y1="603.6" x2="414" y2="603.6" stroke="#000" stroke-width="1.35"/>
<text x="397.8" y="612.96" font-size="9.2" text-anchor="middle" textLength="36.4" lengthAdjust="spacingAndGlyphs">RPMI.8226</text>
<line x1="416.8" y1="603.6" x2="444.2" y2="603.6" stroke="#000" stroke-width="1.35"/>
<text x="430.8" y="612.96" font-size="9.2" text-anchor="middle" textLength="20.5" lengthAdjust="spacingAndGlyphs">OPM2</text>
<line x1="447.5" y1="603.6" x2="476.5" y2="603.6" stroke="#000" stroke-width="1.35"/>
<text x="462.5" y="612.96" font-size="9.2" text-anchor="middle" textLength="22.9" lengthAdjust="spacingAndGlyphs">KMS12</text>
<text transform="translate(331.5 551) rotate(-90)" x="0" y="3.1" font-size="9" text-anchor="middle" textLength="99.5" lengthAdjust="spacingAndGlyphs">ETV4 mRNA expression (2<tspan font-size="5" dy="-3">&#8722;&#916;&#916;ct</tspan><tspan dy="3">)</tspan></text>
<text x="12.3" y="637.83" font-size="12" text-anchor="middle" font-weight="bold">D</text>
<text x="72.2" y="638.05" font-size="10.6" text-anchor="middle" textLength="23.4" lengthAdjust="spacingAndGlyphs">MM.1S</text>
<line x1="22" y1="641.4" x2="122.5" y2="641.4" stroke="#000" stroke-width="1.2"/>
<text x="73.15" y="648.64" font-size="6.8" text-anchor="middle" textLength="70.5" lengthAdjust="spacingAndGlyphs">Enrichment plot: DUSPS_ETVS</text>
<text x="26.9" y="658.89" font-size="4.9" text-anchor="end">0.0</text>
<text x="26.9" y="664.34" font-size="4.9" text-anchor="end">-0.1</text>
<text x="26.9" y="669.79" font-size="4.9" text-anchor="end">-0.2</text>
<text x="26.9" y="675.24" font-size="4.9" text-anchor="end">-0.3</text>
<text x="26.9" y="680.69" font-size="4.9" text-anchor="end">-0.4</text>
<text x="26.9" y="686.14" font-size="4.9" text-anchor="end">-0.5</text>
<text x="26.9" y="691.59" font-size="4.9" text-anchor="end">-0.6</text>
<text transform="translate(10.6 673) rotate(-90)" x="0" y="2.2" font-size="6.4" text-anchor="middle" textLength="50" lengthAdjust="spacingAndGlyphs">Enrichment score (ES)</text>
<polyline points="28.8,657.7 30.4,655.4 32.2,656.1 37.3,658.4 45.4,663 51.2,665.3 53.5,666 56.9,665.8 60.4,666.5 65,669.2 74.2,673.8 83.5,679.2 90.4,682.6 97.3,685.4 101.9,687.7 106.5,691.2 108.8,689.5 111.2,688.4 112.3,689.1 114,686.8 114.2,682.6 114.6,658.4" fill="none" stroke="#c8161c" stroke-width="1" stroke-linejoin="round"/>
<rect x="28.1" y="652.3" width="89.1" height="40.5" fill="none" stroke="#000" stroke-width="1"/>
<rect x="28.7" y="695.4" width="86.8" height="13.4" fill="#f8fafa"/>
<rect x="29.57" y="695.4" width="0.8" height="13.4" fill="#203838" fill-opacity="0.24"/>
<rect x="30.48" y="695.4" width="0.8" height="13.4" fill="#203838" fill-opacity="0.24"/>
<rect x="32.68" y="695.4" width="0.8" height="13.4" fill="#203838" fill-opacity="0.24"/>
<rect x="37.8" y="695.4" width="0.8" height="13.4" fill="#203838" fill-opacity="0.62"/>
<rect x="39.63" y="695.4" width="0.8" height="13.4" fill="#203838" fill-opacity="0.24"/>
<rect x="46.02" y="695.4" width="0.8" height="13.4" fill="#203838" fill-opacity="0.24"/>
<rect x="47.85" y="695.4" width="0.8" height="13.4" fill="#203838" fill-opacity="0.24"/>
<rect x="54.25" y="695.4" width="0.8" height="13.4" fill="#203838" fill-opacity="0.62"/>
<rect x="55.71" y="695.4" width="0.8" height="13.4" fill="#203838" fill-opacity="0.24"/>
<rect x="56.99" y="695.4" width="0.8" height="13.4" fill="#203838" fill-opacity="0.62"/>
<rect x="58.46" y="695.4" width="0.8" height="13.4" fill="#203838" fill-opacity="0.62"/>
<rect x="59.73" y="695.4" width="0.8" height="13.4" fill="#203838" fill-opacity="0.62"/>
<rect x="63.39" y="695.4" width="0.8" height="13.4" fill="#203838" fill-opacity="0.24"/>
<rect x="67.05" y="695.4" width="0.8" height="13.4" fill="#203838" fill-opacity="0.24"/>
<rect x="70.7" y="695.4" width="0.8" height="13.4" fill="#203838" fill-opacity="0.24"/>
<rect x="72.9" y="695.4" width="0.8" height="13.4" fill="#203838" fill-opacity="0.24"/>
<rect x="86.24" y="695.4" width="0.8" height="13.4" fill="#203838" fill-opacity="0.24"/>
<rect x="88.07" y="695.4" width="0.8" height="13.4" fill="#203838" fill-opacity="0.62"/>
<rect x="89.35" y="695.4" width="0.8" height="13.4" fill="#203838" fill-opacity="0.62"/>
<rect x="91.73" y="695.4" width="0.8" height="13.4" fill="#203838" fill-opacity="0.62"/>
<rect x="94.47" y="695.4" width="0.8" height="13.4" fill="#203838" fill-opacity="0.24"/>
<rect x="99.04" y="695.4" width="0.8" height="13.4" fill="#203838" fill-opacity="0.24"/>
<rect x="101.78" y="695.4" width="0.8" height="13.4" fill="#203838" fill-opacity="0.24"/>
<rect x="107.27" y="695.4" width="0.8" height="13.4" fill="#203838" fill-opacity="0.24"/>
<rect x="109.1" y="695.4" width="0.8" height="13.4" fill="#203838" fill-opacity="0.62"/>
<rect x="111.84" y="695.4" width="0.8" height="13.4" fill="#203838" fill-opacity="0.62"/>
<rect x="113.67" y="695.4" width="0.8" height="13.4" fill="#203838" fill-opacity="0.24"/>
<rect x="28.7" y="709.3" width="17.46" height="2.7" fill="#ee2a50"/>
<rect x="46.06" y="709.3" width="17.03" height="2.7" fill="#ef5a8e"/>
<rect x="62.99" y="709.3" width="11.82" height="2.7" fill="#f6b2e2"/>
<rect x="74.7" y="709.3" width="12.25" height="2.7" fill="#e4e2fa"/>
<rect x="86.86" y="709.3" width="7.91" height="2.7" fill="#c8c6f6"/>
<rect x="94.67" y="709.3" width="6.18" height="2.7" fill="#8a88f0"/>
<rect x="100.74" y="709.3" width="14.86" height="2.7" fill="#3434ea"/>
<text x="72.2" y="721.13" font-size="9.4" text-anchor="middle" textLength="72" lengthAdjust="spacingAndGlyphs">FDR:&lt;0.001-<tspan font-style="italic">P</tspan>:&lt;0.001</text>
<text x="72.7" y="730.83" font-size="9.4" text-anchor="middle" textLength="30" lengthAdjust="spacingAndGlyphs">NES:-1.89</text>
<text x="203" y="638.05" font-size="10.6" text-anchor="middle" textLength="25" lengthAdjust="spacingAndGlyphs">KMS20</text>
<line x1="153" y1="640.8" x2="253" y2="640.8" stroke="#000" stroke-width="1.2"/>
<text x="203.65" y="648.64" font-size="6.8" text-anchor="middle" textLength="70.5" lengthAdjust="spacingAndGlyphs">Enrichment plot: DUSPS_ETVS</text>
<text x="157" y="658.69" font-size="4.9" text-anchor="end">0.0</text>
<text x="157" y="664.06" font-size="4.9" text-anchor="end">-0.1</text>
<text x="157" y="669.43" font-size="4.9" text-anchor="end">-0.2</text>
<text x="157" y="674.8" font-size="4.9" text-anchor="end">-0.3</text>
<text x="157" y="680.17" font-size="4.9" text-anchor="end">-0.4</text>
<text x="157" y="685.54" font-size="4.9" text-anchor="end">-0.5</text>
<text x="157" y="690.91" font-size="4.9" text-anchor="end">-0.6</text>
<text transform="translate(140.8 672) rotate(-90)" x="0" y="2.2" font-size="6.4" text-anchor="middle" textLength="50" lengthAdjust="spacingAndGlyphs">Enrichment score (ES)</text>
<polyline points="159.5,658.75 163,655.5 166.25,658 170,659.5 176.25,662.5 180,663.75 185,666.25 190,666.25 195,667.5 217.5,680.5 225,683 235,688.75 237,687 240,686.25 242,687.5 243,682.5 243.25,658.75" fill="none" stroke="#c8161c" stroke-width="1" stroke-linejoin="round"/>
<rect x="158.8" y="652.5" width="88.7" height="40.1" fill="none" stroke="#000" stroke-width="1"/>
<rect x="160.1" y="695.5" width="85.9" height="13.1" fill="#f8fafa"/>
<rect x="160.48" y="695.5" width="0.8" height="13.1" fill="#203838" fill-opacity="0.24"/>
<rect x="161.95" y="695.5" width="0.8" height="13.1" fill="#203838" fill-opacity="0.24"/>
<rect x="163.78" y="695.5" width="0.8" height="13.1" fill="#203838" fill-opacity="0.24"/>
<rect x="169.63" y="695.5" width="0.8" height="13.1" fill="#203838" fill-opacity="0.24"/>
<rect x="177.3" y="695.5" width="0.8" height="13.1" fill="#203838" fill-opacity="0.24"/>
<rect x="178.77" y="695.5" width="0.8" height="13.1" fill="#203838" fill-opacity="0.24"/>
<rect x="185.16" y="695.5" width="0.8" height="13.1" fill="#203838" fill-opacity="0.62"/>
<rect x="186.44" y="695.5" width="0.8" height="13.1" fill="#203838" fill-opacity="0.24"/>
<rect x="187.91" y="695.5" width="0.8" height="13.1" fill="#203838" fill-opacity="0.62"/>
<rect x="189.73" y="695.5" width="0.8" height="13.1" fill="#203838" fill-opacity="0.62"/>
<rect x="190.65" y="695.5" width="0.8" height="13.1" fill="#203838" fill-opacity="0.24"/>
<rect x="194.85" y="695.5" width="0.8" height="13.1" fill="#203838" fill-opacity="0.24"/>
<rect x="197.96" y="695.5" width="0.8" height="13.1" fill="#203838" fill-opacity="0.24"/>
<rect x="200.7" y="695.5" width="0.8" height="13.1" fill="#203838" fill-opacity="0.24"/>
<rect x="203.45" y="695.5" width="0.8" height="13.1" fill="#203838" fill-opacity="0.24"/>
<rect x="217.16" y="695.5" width="0.8" height="13.1" fill="#203838" fill-opacity="0.24"/>
<rect x="218.62" y="695.5" width="0.8" height="13.1" fill="#203838" fill-opacity="0.62"/>
<rect x="219.9" y="695.5" width="0.8" height="13.1" fill="#203838" fill-opacity="0.24"/>
<rect x="221.73" y="695.5" width="0.8" height="13.1" fill="#203838" fill-opacity="0.62"/>
<rect x="223.56" y="695.5" width="0.8" height="13.1" fill="#203838" fill-opacity="0.24"/>
<rect x="226.66" y="695.5" width="0.8" height="13.1" fill="#203838" fill-opacity="0.24"/>
<rect x="229.95" y="695.5" width="0.8" height="13.1" fill="#203838" fill-opacity="0.24"/>
<rect x="238.18" y="695.5" width="0.8" height="13.1" fill="#203838" fill-opacity="0.24"/>
<rect x="240.01" y="695.5" width="0.8" height="13.1" fill="#203838" fill-opacity="0.62"/>
<rect x="242.75" y="695.5" width="0.8" height="13.1" fill="#203838" fill-opacity="0.62"/>
<rect x="244.58" y="695.5" width="0.8" height="13.1" fill="#203838" fill-opacity="0.24"/>
<rect x="160.1" y="709.3" width="17.28" height="2.7" fill="#ee2a50"/>
<rect x="177.28" y="709.3" width="16.85" height="2.7" fill="#ef5a8e"/>
<rect x="194.03" y="709.3" width="11.7" height="2.7" fill="#f6b2e2"/>
<rect x="205.63" y="709.3" width="12.13" height="2.7" fill="#e4e2fa"/>
<rect x="217.65" y="709.3" width="7.83" height="2.7" fill="#c8c6f6"/>
<rect x="225.38" y="709.3" width="6.11" height="2.7" fill="#8a88f0"/>
<rect x="231.4" y="709.3" width="14.7" height="2.7" fill="#3434ea"/>
<text x="203" y="720.73" font-size="9.4" text-anchor="middle" textLength="65" lengthAdjust="spacingAndGlyphs">FDR:&lt;0.003-<tspan font-style="italic">P</tspan>:0.003</text>
<text x="203" y="730.73" font-size="9.4" text-anchor="middle" textLength="30" lengthAdjust="spacingAndGlyphs">NES:-1.72</text>
<text x="333" y="638.05" font-size="10.6" text-anchor="middle" textLength="21.75" lengthAdjust="spacingAndGlyphs">OPM2</text>
<line x1="283" y1="640.8" x2="383.75" y2="640.8" stroke="#000" stroke-width="1.2"/>
<text x="334" y="648.64" font-size="6.8" text-anchor="middle" textLength="70.5" lengthAdjust="spacingAndGlyphs">Enrichment plot: DUSPS_ETVS</text>
<text x="288" y="655.99" font-size="4.9" text-anchor="end">0.10</text>
<text x="288" y="661.02" font-size="4.9" text-anchor="end">0.05</text>
<text x="288" y="666.05" font-size="4.9" text-anchor="end">0.00</text>
<text x="288" y="671.08" font-size="4.9" text-anchor="end">-0.05</text>
<text x="288" y="676.11" font-size="4.9" text-anchor="end">-0.10</text>
<text x="288" y="681.14" font-size="4.9" text-anchor="end">-0.15</text>
<text x="288" y="686.17" font-size="4.9" text-anchor="end">-0.20</text>
<text x="288" y="691.2" font-size="4.9" text-anchor="end">-0.25</text>
<text transform="translate(272 674.5) rotate(-90)" x="0" y="2.2" font-size="6.4" text-anchor="middle" textLength="50" lengthAdjust="spacingAndGlyphs">Enrichment score (ES)</text>
<polyline points="289.4,666.2 299.6,677.8 300.5,672 301.3,673.5 302,668 303.5,670.5 305,665 306.5,667.5 308,663 309.2,664.5 310,659 310.6,660.5 311.4,655.5 313,656.5 316,659 320,663 330,674.5 340,683.5 344,688.5 346,689.8 348,689 350,682 352,684.5 354,682 356,685 358,683 364,688 364.5,674 365,666 367,669 369,659 375,665.5" fill="none" stroke="#c8161c" stroke-width="1" stroke-linejoin="round"/>
<rect x="289.5" y="652.5" width="88" height="40.5" fill="none" stroke="#000" stroke-width="1"/>
<rect x="289.6" y="695.5" width="86.8" height="13.1" fill="#f8fafa"/>
<rect x="290.12" y="695.5" width="0.8" height="13.1" fill="#203838" fill-opacity="0.24"/>
<rect x="301.09" y="695.5" width="0.8" height="13.1" fill="#203838" fill-opacity="0.62"/>
<rect x="302.37" y="695.5" width="0.8" height="13.1" fill="#203838" fill-opacity="0.24"/>
<rect x="307.3" y="695.5" width="0.8" height="13.1" fill="#203838" fill-opacity="0.24"/>
<rect x="308.4" y="695.5" width="0.8" height="13.1" fill="#203838" fill-opacity="0.62"/>
<rect x="309.68" y="695.5" width="0.8" height="13.1" fill="#203838" fill-opacity="0.62"/>
<rect x="310.59" y="695.5" width="0.8" height="13.1" fill="#203838" fill-opacity="0.24"/>
<rect x="318.82" y="695.5" width="0.8" height="13.1" fill="#203838" fill-opacity="0.24"/>
<rect x="320.65" y="695.5" width="0.8" height="13.1" fill="#203838" fill-opacity="0.24"/>
<rect x="322.48" y="695.5" width="0.8" height="13.1" fill="#203838" fill-opacity="0.24"/>
<rect x="324.31" y="695.5" width="0.8" height="13.1" fill="#203838" fill-opacity="0.24"/>
<rect x="326.13" y="695.5" width="0.8" height="13.1" fill="#203838" fill-opacity="0.24"/>
<rect x="332.17" y="695.5" width="0.8" height="13.1" fill="#203838" fill-opacity="0.62"/>
<rect x="332.9" y="695.5" width="0.8" height="13.1" fill="#203838" fill-opacity="0.24"/>
<rect x="341.67" y="695.5" width="0.8" height="13.1" fill="#203838" fill-opacity="0.24"/>
<rect x="343.14" y="695.5" width="0.8" height="13.1" fill="#203838" fill-opacity="0.24"/>
<rect x="349.35" y="695.5" width="0.8" height="13.1" fill="#203838" fill-opacity="0.24"/>
<rect x="350.45" y="695.5" width="0.8" height="13.1" fill="#203838" fill-opacity="0.62"/>
<rect x="351.73" y="695.5" width="0.8" height="13.1" fill="#203838" fill-opacity="0.62"/>
<rect x="352.64" y="695.5" width="0.8" height="13.1" fill="#203838" fill-opacity="0.24"/>
<rect x="356.3" y="695.5" width="0.8" height="13.1" fill="#203838" fill-opacity="0.24"/>
<rect x="359.95" y="695.5" width="0.8" height="13.1" fill="#203838" fill-opacity="0.24"/>
<rect x="366.35" y="695.5" width="0.8" height="13.1" fill="#203838" fill-opacity="0.24"/>
<rect x="367.27" y="695.5" width="0.8" height="13.1" fill="#203838" fill-opacity="0.62"/>
<rect x="370.92" y="695.5" width="0.8" height="13.1" fill="#203838" fill-opacity="0.24"/>
<rect x="289.6" y="709.3" width="12.86" height="2.7" fill="#ee2a50"/>
<rect x="302.36" y="709.3" width="13.73" height="2.7" fill="#ef5a8e"/>
<rect x="315.99" y="709.3" width="13.9" height="2.7" fill="#f6b2e2"/>
<rect x="329.79" y="709.3" width="15.55" height="2.7" fill="#e4e2fa"/>
<rect x="345.24" y="709.3" width="9.3" height="2.7" fill="#c8c6f6"/>
<rect x="354.44" y="709.3" width="4.7" height="2.7" fill="#8a88f0"/>
<rect x="359.04" y="709.3" width="17.46" height="2.7" fill="#3434ea"/>
<text x="333.75" y="720.73" font-size="9.4" text-anchor="middle" textLength="44" lengthAdjust="spacingAndGlyphs">FDR:0.9-<tspan font-style="italic">P</tspan>:n.s.</text>
<text x="462.9" y="638.05" font-size="10.6" text-anchor="middle" textLength="19.7" lengthAdjust="spacingAndGlyphs">U266</text>
<line x1="413" y1="641.5" x2="512.7" y2="641.5" stroke="#000" stroke-width="1.2"/>
<text x="462.7" y="648.64" font-size="6.8" text-anchor="middle" textLength="70.5" lengthAdjust="spacingAndGlyphs">Enrichment plot: DUSPS_ETVS</text>
<text x="417.5" y="655.69" font-size="4.9" text-anchor="end">0.25</text>
<text x="417.5" y="660.76" font-size="4.9" text-anchor="end">0.20</text>
<text x="417.5" y="665.83" font-size="4.9" text-anchor="end">0.15</text>
<text x="417.5" y="670.9" font-size="4.9" text-anchor="end">0.10</text>
<text x="417.5" y="675.97" font-size="4.9" text-anchor="end">0.05</text>
<text x="417.5" y="681.04" font-size="4.9" text-anchor="end">0.00</text>
<text x="417.5" y="686.11" font-size="4.9" text-anchor="end">-0.05</text>
<text x="417.5" y="691.18" font-size="4.9" text-anchor="end">-0.10</text>
<text transform="translate(401.1 674.5) rotate(-90)" x="0" y="2.2" font-size="6.4" text-anchor="middle" textLength="50" lengthAdjust="spacingAndGlyphs">Enrichment score (ES)</text>
<polyline points="418.9,679.6 419.3,665.8 425,672.7 426.2,658.8 427.3,657.7 428.5,658.8 429.6,655.4 438.8,665.8 440.5,656.5 442.3,659.3 443.9,657 445.3,660 447.6,656.5 450.4,661.2 455,663.5 458.5,666.9 480.4,686.5 483.9,687 487.3,689.3 489.2,687.7 490.8,681.9 492.4,684.2 496.5,670.4 505.8,679.6" fill="none" stroke="#c8161c" stroke-width="1" stroke-linejoin="round"/>
<rect x="418.2" y="652.6" width="88" height="39.8" fill="none" stroke="#000" stroke-width="1"/>
<rect x="420.1" y="694.8" width="84.1" height="13.4" fill="#f8fafa"/>
<rect x="420.48" y="694.8" width="0.8" height="13.4" fill="#203838" fill-opacity="0.24"/>
<rect x="425.05" y="694.8" width="0.8" height="13.4" fill="#203838" fill-opacity="0.62"/>
<rect x="427.8" y="694.8" width="0.8" height="13.4" fill="#203838" fill-opacity="0.62"/>
<rect x="439.68" y="694.8" width="0.8" height="13.4" fill="#203838" fill-opacity="0.24"/>
<rect x="441.51" y="694.8" width="0.8" height="13.4" fill="#203838" fill-opacity="0.62"/>
<rect x="445.16" y="694.8" width="0.8" height="13.4" fill="#203838" fill-opacity="0.24"/>
<rect x="446.99" y="694.8" width="0.8" height="13.4" fill="#203838" fill-opacity="0.62"/>
<rect x="453.39" y="694.8" width="0.8" height="13.4" fill="#203838" fill-opacity="0.24"/>
<rect x="456.13" y="694.8" width="0.8" height="13.4" fill="#203838" fill-opacity="0.62"/>
<rect x="458.88" y="694.8" width="0.8" height="13.4" fill="#203838" fill-opacity="0.62"/>
<rect x="464.36" y="694.8" width="0.8" height="13.4" fill="#203838" fill-opacity="0.24"/>
<rect x="466.19" y="694.8" width="0.8" height="13.4" fill="#203838" fill-opacity="0.24"/>
<rect x="469.84" y="694.8" width="0.8" height="13.4" fill="#203838" fill-opacity="0.24"/>
<rect x="473.14" y="694.8" width="0.8" height="13.4" fill="#203838" fill-opacity="0.24"/>
<rect x="475.33" y="694.8" width="0.8" height="13.4" fill="#203838" fill-opacity="0.24"/>
<rect x="478.07" y="694.8" width="0.8" height="13.4" fill="#203838" fill-opacity="0.24"/>
<rect x="479.9" y="694.8" width="0.8" height="13.4" fill="#203838" fill-opacity="0.62"/>
<rect x="481.73" y="694.8" width="0.8" height="13.4" fill="#203838" fill-opacity="0.24"/>
<rect x="483.01" y="694.8" width="0.8" height="13.4" fill="#203838" fill-opacity="0.62"/>
<rect x="487.21" y="694.8" width="0.8" height="13.4" fill="#203838" fill-opacity="0.62"/>
<rect x="489.04" y="694.8" width="0.8" height="13.4" fill="#203838" fill-opacity="0.62"/>
<rect x="489.95" y="694.8" width="0.8" height="13.4" fill="#203838" fill-opacity="0.24"/>
<rect x="493.98" y="694.8" width="0.8" height="13.4" fill="#203838" fill-opacity="0.62"/>
<rect x="495.44" y="694.8" width="0.8" height="13.4" fill="#203838" fill-opacity="0.24"/>
<rect x="420.1" y="708.5" width="18.43" height="2.8" fill="#ee2a50"/>
<rect x="438.43" y="708.5" width="17.51" height="2.8" fill="#ef5a8e"/>
<rect x="455.84" y="708.5" width="4.73" height="2.8" fill="#f6b2e2"/>
<rect x="460.47" y="708.5" width="11.87" height="2.8" fill="#e4e2fa"/>
<rect x="472.24" y="708.5" width="13.14" height="2.8" fill="#c8c6f6"/>
<rect x="485.28" y="708.5" width="5.57" height="2.8" fill="#8a88f0"/>
<rect x="490.74" y="708.5" width="13.56" height="2.8" fill="#3434ea"/>
<text x="462.9" y="720.73" font-size="9.4" text-anchor="middle" textLength="44" lengthAdjust="spacingAndGlyphs">FDR:0.7-<tspan font-style="italic">P</tspan>:n.s.</text>
<rect x="0" y="0" width="520" height="1.3" fill="#000"/>
<rect x="0" y="0" width="1.4" height="739" fill="#000"/>
<rect x="518.4" y="0" width="1.6" height="739" fill="#000"/>
<rect x="0" y="737.3" width="520" height="1.7" fill="#000"/>
</svg>
</body></html>
